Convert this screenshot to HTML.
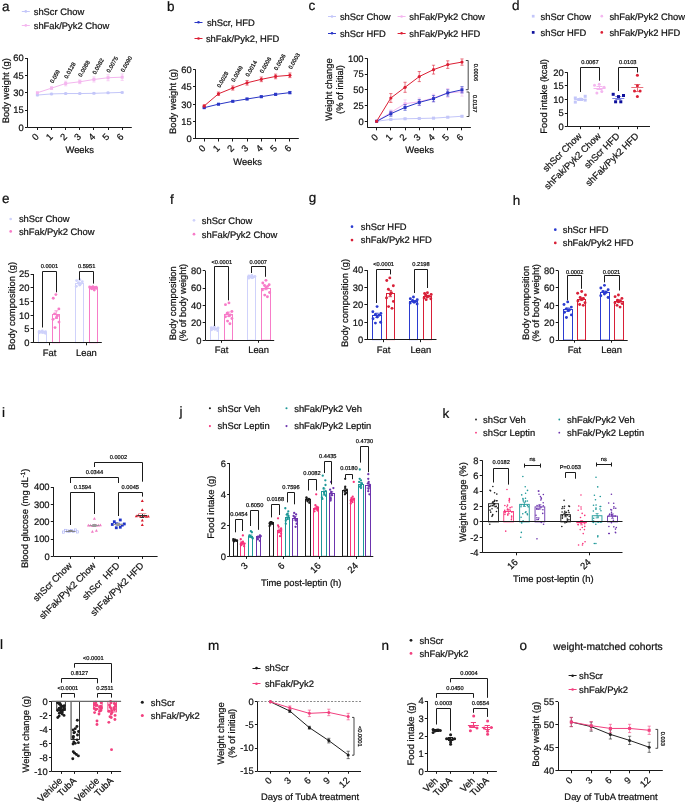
<!DOCTYPE html>
<html><head><meta charset="utf-8"><style>
html,body{margin:0;padding:0;background:#fff;}
svg{display:block;will-change:transform;}
text{font-family:"Liberation Sans",sans-serif;stroke-width:0.22px;text-rendering:geometricPrecision;}
</style></head><body>
<svg width="685" height="803" viewBox="0 0 685 803">
<rect width="685" height="803" fill="#fff"/>
<text font-size="13.5" text-anchor="start" fill="#111" stroke="#111" transform="translate(2 10.6)">a</text>
<line x1="21.8" y1="11.5" x2="29.8" y2="11.5" stroke="#c3c6f9" stroke-width="1"/>
<circle cx="25.8" cy="11.4" r="1.3" fill="#c3c6f9"/>
<text font-size="9.4" text-anchor="start" fill="#111" stroke="#111" transform="translate(33.7 14.74)">shScr Chow</text>
<line x1="21.8" y1="25.5" x2="29.8" y2="25.5" stroke="#f4b6ef" stroke-width="1"/>
<circle cx="25.8" cy="25.4" r="1.3" fill="#f4b6ef"/>
<text font-size="9.4" text-anchor="start" fill="#111" stroke="#111" transform="translate(33.7 28.74)">shFak/Pyk2 Chow</text>
<line x1="27.5" y1="58.1" x2="27.5" y2="127.4" stroke="#1a1a1a" stroke-width="1"/>
<line x1="25" y1="58.5" x2="27.6" y2="58.5" stroke="#1a1a1a" stroke-width="1"/>
<text font-size="9.4" text-anchor="end" fill="#111" stroke="#111" transform="translate(23.8 61.44)">60</text>
<line x1="25" y1="75.5" x2="27.6" y2="75.5" stroke="#1a1a1a" stroke-width="1"/>
<text font-size="9.4" text-anchor="end" fill="#111" stroke="#111" transform="translate(23.8 78.76)">45</text>
<line x1="25" y1="92.5" x2="27.6" y2="92.5" stroke="#1a1a1a" stroke-width="1"/>
<text font-size="9.4" text-anchor="end" fill="#111" stroke="#111" transform="translate(23.8 96.09)">30</text>
<line x1="25" y1="110.5" x2="27.6" y2="110.5" stroke="#1a1a1a" stroke-width="1"/>
<text font-size="9.4" text-anchor="end" fill="#111" stroke="#111" transform="translate(23.8 113.41)">15</text>
<line x1="25" y1="127.5" x2="27.6" y2="127.5" stroke="#1a1a1a" stroke-width="1"/>
<text font-size="9.4" text-anchor="end" fill="#111" stroke="#111" transform="translate(23.8 130.74)">0</text>
<line x1="27.6" y1="127.5" x2="131.8" y2="127.5" stroke="#1a1a1a" stroke-width="1"/>
<line x1="37.5" y1="127.4" x2="37.5" y2="130" stroke="#1a1a1a" stroke-width="1"/>
<line x1="51.5" y1="127.4" x2="51.5" y2="130" stroke="#1a1a1a" stroke-width="1"/>
<line x1="65.5" y1="127.4" x2="65.5" y2="130" stroke="#1a1a1a" stroke-width="1"/>
<line x1="79.5" y1="127.4" x2="79.5" y2="130" stroke="#1a1a1a" stroke-width="1"/>
<line x1="93.5" y1="127.4" x2="93.5" y2="130" stroke="#1a1a1a" stroke-width="1"/>
<line x1="108.5" y1="127.4" x2="108.5" y2="130" stroke="#1a1a1a" stroke-width="1"/>
<line x1="122.5" y1="127.4" x2="122.5" y2="130" stroke="#1a1a1a" stroke-width="1"/>
<polyline points="37.4,95.06 51.53,93.91 65.66,93.56 79.79,93.56 93.92,93.33 108.05,92.87 122.18,92.4" fill="none" stroke="#c3c6f9" stroke-width="1" stroke-linejoin="round"/>
<line x1="37.4" y1="94.37" x2="37.4" y2="95.75" stroke="#c3c6f9" stroke-width="0.6"/>
<line x1="35.8" y1="94.37" x2="39" y2="94.37" stroke="#c3c6f9" stroke-width="0.6"/>
<line x1="35.8" y1="95.75" x2="39" y2="95.75" stroke="#c3c6f9" stroke-width="0.6"/>
<line x1="51.53" y1="93.21" x2="51.53" y2="94.6" stroke="#c3c6f9" stroke-width="0.6"/>
<line x1="49.93" y1="93.21" x2="53.13" y2="93.21" stroke="#c3c6f9" stroke-width="0.6"/>
<line x1="49.93" y1="94.6" x2="53.13" y2="94.6" stroke="#c3c6f9" stroke-width="0.6"/>
<line x1="65.66" y1="92.87" x2="65.66" y2="94.25" stroke="#c3c6f9" stroke-width="0.6"/>
<line x1="64.06" y1="92.87" x2="67.26" y2="92.87" stroke="#c3c6f9" stroke-width="0.6"/>
<line x1="64.06" y1="94.25" x2="67.26" y2="94.25" stroke="#c3c6f9" stroke-width="0.6"/>
<line x1="79.79" y1="92.87" x2="79.79" y2="94.25" stroke="#c3c6f9" stroke-width="0.6"/>
<line x1="78.19" y1="92.87" x2="81.39" y2="92.87" stroke="#c3c6f9" stroke-width="0.6"/>
<line x1="78.19" y1="94.25" x2="81.39" y2="94.25" stroke="#c3c6f9" stroke-width="0.6"/>
<line x1="93.92" y1="92.63" x2="93.92" y2="94.02" stroke="#c3c6f9" stroke-width="0.6"/>
<line x1="92.32" y1="92.63" x2="95.52" y2="92.63" stroke="#c3c6f9" stroke-width="0.6"/>
<line x1="92.32" y1="94.02" x2="95.52" y2="94.02" stroke="#c3c6f9" stroke-width="0.6"/>
<line x1="108.05" y1="92.17" x2="108.05" y2="93.56" stroke="#c3c6f9" stroke-width="0.6"/>
<line x1="106.45" y1="92.17" x2="109.65" y2="92.17" stroke="#c3c6f9" stroke-width="0.6"/>
<line x1="106.45" y1="93.56" x2="109.65" y2="93.56" stroke="#c3c6f9" stroke-width="0.6"/>
<line x1="122.18" y1="91.71" x2="122.18" y2="93.1" stroke="#c3c6f9" stroke-width="0.6"/>
<line x1="120.58" y1="91.71" x2="123.78" y2="91.71" stroke="#c3c6f9" stroke-width="0.6"/>
<line x1="120.58" y1="93.1" x2="123.78" y2="93.1" stroke="#c3c6f9" stroke-width="0.6"/>
<circle cx="37.4" cy="95.06" r="1.5" fill="#c3c6f9"/>
<circle cx="51.53" cy="93.91" r="1.5" fill="#c3c6f9"/>
<circle cx="65.66" cy="93.56" r="1.5" fill="#c3c6f9"/>
<circle cx="79.79" cy="93.56" r="1.5" fill="#c3c6f9"/>
<circle cx="93.92" cy="93.33" r="1.5" fill="#c3c6f9"/>
<circle cx="108.05" cy="92.87" r="1.5" fill="#c3c6f9"/>
<circle cx="122.18" cy="92.4" r="1.5" fill="#c3c6f9"/>
<polyline points="37.4,92.75 51.53,88.13 65.66,83.51 79.79,81.78 93.92,79.47 108.05,77.73 122.18,77.16" fill="none" stroke="#f4b6ef" stroke-width="1" stroke-linejoin="round"/>
<line x1="51.53" y1="86.74" x2="51.53" y2="89.52" stroke="#f4b6ef" stroke-width="0.6"/>
<line x1="49.93" y1="86.74" x2="53.13" y2="86.74" stroke="#f4b6ef" stroke-width="0.6"/>
<line x1="49.93" y1="89.52" x2="53.13" y2="89.52" stroke="#f4b6ef" stroke-width="0.6"/>
<line x1="65.66" y1="81.2" x2="65.66" y2="85.82" stroke="#f4b6ef" stroke-width="0.6"/>
<line x1="64.06" y1="81.2" x2="67.26" y2="81.2" stroke="#f4b6ef" stroke-width="0.6"/>
<line x1="64.06" y1="85.82" x2="67.26" y2="85.82" stroke="#f4b6ef" stroke-width="0.6"/>
<line x1="79.79" y1="79.93" x2="79.79" y2="83.63" stroke="#f4b6ef" stroke-width="0.6"/>
<line x1="78.19" y1="79.93" x2="81.39" y2="79.93" stroke="#f4b6ef" stroke-width="0.6"/>
<line x1="78.19" y1="83.63" x2="81.39" y2="83.63" stroke="#f4b6ef" stroke-width="0.6"/>
<line x1="93.92" y1="76.93" x2="93.92" y2="82.01" stroke="#f4b6ef" stroke-width="0.6"/>
<line x1="92.32" y1="76.93" x2="95.52" y2="76.93" stroke="#f4b6ef" stroke-width="0.6"/>
<line x1="92.32" y1="82.01" x2="95.52" y2="82.01" stroke="#f4b6ef" stroke-width="0.6"/>
<line x1="108.05" y1="74.73" x2="108.05" y2="80.74" stroke="#f4b6ef" stroke-width="0.6"/>
<line x1="106.45" y1="74.73" x2="109.65" y2="74.73" stroke="#f4b6ef" stroke-width="0.6"/>
<line x1="106.45" y1="80.74" x2="109.65" y2="80.74" stroke="#f4b6ef" stroke-width="0.6"/>
<line x1="122.18" y1="73.92" x2="122.18" y2="80.39" stroke="#f4b6ef" stroke-width="0.6"/>
<line x1="120.58" y1="73.92" x2="123.78" y2="73.92" stroke="#f4b6ef" stroke-width="0.6"/>
<line x1="120.58" y1="80.39" x2="123.78" y2="80.39" stroke="#f4b6ef" stroke-width="0.6"/>
<rect x="35.9" y="91.25" width="3" height="3" fill="#f4b6ef"/>
<rect x="50.03" y="86.63" width="3" height="3" fill="#f4b6ef"/>
<rect x="64.16" y="82.01" width="3" height="3" fill="#f4b6ef"/>
<rect x="78.29" y="80.28" width="3" height="3" fill="#f4b6ef"/>
<rect x="92.42" y="77.97" width="3" height="3" fill="#f4b6ef"/>
<rect x="106.55" y="76.23" width="3" height="3" fill="#f4b6ef"/>
<rect x="120.68" y="75.66" width="3" height="3" fill="#f4b6ef"/>
<text font-size="5.7" text-anchor="start" fill="#111" stroke="#111" stroke-width="0.3" transform="translate(53.03 83.51) rotate(-60)">0.059</text>
<text font-size="5.7" text-anchor="start" fill="#111" stroke="#111" stroke-width="0.3" transform="translate(67.16 78.89) rotate(-60)">0.0128</text>
<text font-size="5.7" text-anchor="start" fill="#111" stroke="#111" stroke-width="0.3" transform="translate(81.29 77.16) rotate(-60)">0.0088</text>
<text font-size="5.7" text-anchor="start" fill="#111" stroke="#111" stroke-width="0.3" transform="translate(95.42 74.85) rotate(-60)">0.0082</text>
<text font-size="5.7" text-anchor="start" fill="#111" stroke="#111" stroke-width="0.3" transform="translate(109.55 73.12) rotate(-60)">0.0075</text>
<text font-size="5.7" text-anchor="start" fill="#111" stroke="#111" stroke-width="0.3" transform="translate(123.68 72.54) rotate(-60)">0.0090</text>
<text font-size="9.4" text-anchor="end" fill="#111" stroke="#111" transform="translate(39.4 137.4) rotate(-45)">0</text>
<text font-size="9.4" text-anchor="end" fill="#111" stroke="#111" transform="translate(53.53 137.4) rotate(-45)">1</text>
<text font-size="9.4" text-anchor="end" fill="#111" stroke="#111" transform="translate(67.66 137.4) rotate(-45)">2</text>
<text font-size="9.4" text-anchor="end" fill="#111" stroke="#111" transform="translate(81.79 137.4) rotate(-45)">3</text>
<text font-size="9.4" text-anchor="end" fill="#111" stroke="#111" transform="translate(95.92 137.4) rotate(-45)">4</text>
<text font-size="9.4" text-anchor="end" fill="#111" stroke="#111" transform="translate(110.05 137.4) rotate(-45)">5</text>
<text font-size="9.4" text-anchor="end" fill="#111" stroke="#111" transform="translate(124.18 137.4) rotate(-45)">6</text>
<text font-size="9.4" text-anchor="middle" fill="#111" stroke="#111" transform="translate(79.7 152.9)">Weeks</text>
<text font-size="9.4" text-anchor="middle" fill="#111" stroke="#111" transform="translate(9.38 90.8) rotate(-90)">Body weight (g)</text>
<text font-size="13.5" text-anchor="start" fill="#111" stroke="#111" transform="translate(167 10.6)">b</text>
<line x1="194.5" y1="22.5" x2="202.5" y2="22.5" stroke="#2a36c6" stroke-width="1"/>
<circle cx="198.5" cy="22.2" r="1.3" fill="#2a36c6"/>
<text font-size="9.4" text-anchor="start" fill="#111" stroke="#111" transform="translate(206.9 25.54)">shScr, HFD</text>
<line x1="194.5" y1="38.5" x2="202.5" y2="38.5" stroke="#dc1f34" stroke-width="1"/>
<circle cx="198.5" cy="38.5" r="1.3" fill="#dc1f34"/>
<text font-size="9.4" text-anchor="start" fill="#111" stroke="#111" transform="translate(205.9 41.84)">shFak/Pyk2, HFD</text>
<line x1="195.5" y1="69.5" x2="195.5" y2="138.9" stroke="#1a1a1a" stroke-width="1"/>
<line x1="193" y1="69.5" x2="195.6" y2="69.5" stroke="#1a1a1a" stroke-width="1"/>
<text font-size="9.4" text-anchor="end" fill="#111" stroke="#111" transform="translate(191.8 72.84)">60</text>
<line x1="193" y1="86.5" x2="195.6" y2="86.5" stroke="#1a1a1a" stroke-width="1"/>
<text font-size="9.4" text-anchor="end" fill="#111" stroke="#111" transform="translate(191.8 90.19)">45</text>
<line x1="193" y1="104.5" x2="195.6" y2="104.5" stroke="#1a1a1a" stroke-width="1"/>
<text font-size="9.4" text-anchor="end" fill="#111" stroke="#111" transform="translate(191.8 107.54)">30</text>
<line x1="193" y1="121.5" x2="195.6" y2="121.5" stroke="#1a1a1a" stroke-width="1"/>
<text font-size="9.4" text-anchor="end" fill="#111" stroke="#111" transform="translate(191.8 124.89)">15</text>
<line x1="193" y1="138.5" x2="195.6" y2="138.5" stroke="#1a1a1a" stroke-width="1"/>
<text font-size="9.4" text-anchor="end" fill="#111" stroke="#111" transform="translate(191.8 142.24)">0</text>
<line x1="195.6" y1="138.5" x2="298.8" y2="138.5" stroke="#1a1a1a" stroke-width="1"/>
<line x1="204.5" y1="138.9" x2="204.5" y2="141.5" stroke="#1a1a1a" stroke-width="1"/>
<line x1="218.5" y1="138.9" x2="218.5" y2="141.5" stroke="#1a1a1a" stroke-width="1"/>
<line x1="232.5" y1="138.9" x2="232.5" y2="141.5" stroke="#1a1a1a" stroke-width="1"/>
<line x1="247.5" y1="138.9" x2="247.5" y2="141.5" stroke="#1a1a1a" stroke-width="1"/>
<line x1="261.5" y1="138.9" x2="261.5" y2="141.5" stroke="#1a1a1a" stroke-width="1"/>
<line x1="275.5" y1="138.9" x2="275.5" y2="141.5" stroke="#1a1a1a" stroke-width="1"/>
<line x1="289.5" y1="138.9" x2="289.5" y2="141.5" stroke="#1a1a1a" stroke-width="1"/>
<polyline points="204.2,107.67 218.48,104.2 232.76,101.31 247.04,99 261.32,96.68 275.6,94.37 289.88,92.63" fill="none" stroke="#2a36c6" stroke-width="1" stroke-linejoin="round"/>
<line x1="204.2" y1="107.09" x2="204.2" y2="108.25" stroke="#2a36c6" stroke-width="0.6"/>
<line x1="202.6" y1="107.09" x2="205.8" y2="107.09" stroke="#2a36c6" stroke-width="0.6"/>
<line x1="202.6" y1="108.25" x2="205.8" y2="108.25" stroke="#2a36c6" stroke-width="0.6"/>
<line x1="218.48" y1="103.51" x2="218.48" y2="104.89" stroke="#2a36c6" stroke-width="0.6"/>
<line x1="216.88" y1="103.51" x2="220.08" y2="103.51" stroke="#2a36c6" stroke-width="0.6"/>
<line x1="216.88" y1="104.89" x2="220.08" y2="104.89" stroke="#2a36c6" stroke-width="0.6"/>
<line x1="232.76" y1="100.61" x2="232.76" y2="102" stroke="#2a36c6" stroke-width="0.6"/>
<line x1="231.16" y1="100.61" x2="234.36" y2="100.61" stroke="#2a36c6" stroke-width="0.6"/>
<line x1="231.16" y1="102" x2="234.36" y2="102" stroke="#2a36c6" stroke-width="0.6"/>
<line x1="247.04" y1="98.19" x2="247.04" y2="99.8" stroke="#2a36c6" stroke-width="0.6"/>
<line x1="245.44" y1="98.19" x2="248.64" y2="98.19" stroke="#2a36c6" stroke-width="0.6"/>
<line x1="245.44" y1="99.8" x2="248.64" y2="99.8" stroke="#2a36c6" stroke-width="0.6"/>
<line x1="261.32" y1="95.76" x2="261.32" y2="97.61" stroke="#2a36c6" stroke-width="0.6"/>
<line x1="259.72" y1="95.76" x2="262.92" y2="95.76" stroke="#2a36c6" stroke-width="0.6"/>
<line x1="259.72" y1="97.61" x2="262.92" y2="97.61" stroke="#2a36c6" stroke-width="0.6"/>
<line x1="275.6" y1="93.33" x2="275.6" y2="95.41" stroke="#2a36c6" stroke-width="0.6"/>
<line x1="274" y1="93.33" x2="277.2" y2="93.33" stroke="#2a36c6" stroke-width="0.6"/>
<line x1="274" y1="95.41" x2="277.2" y2="95.41" stroke="#2a36c6" stroke-width="0.6"/>
<line x1="289.88" y1="91.48" x2="289.88" y2="93.79" stroke="#2a36c6" stroke-width="0.6"/>
<line x1="288.28" y1="91.48" x2="291.48" y2="91.48" stroke="#2a36c6" stroke-width="0.6"/>
<line x1="288.28" y1="93.79" x2="291.48" y2="93.79" stroke="#2a36c6" stroke-width="0.6"/>
<rect x="202.7" y="106.17" width="3" height="3" fill="#2a36c6"/>
<rect x="216.98" y="102.7" width="3" height="3" fill="#2a36c6"/>
<rect x="231.26" y="99.81" width="3" height="3" fill="#2a36c6"/>
<rect x="245.54" y="97.5" width="3" height="3" fill="#2a36c6"/>
<rect x="259.82" y="95.18" width="3" height="3" fill="#2a36c6"/>
<rect x="274.1" y="92.87" width="3" height="3" fill="#2a36c6"/>
<rect x="288.38" y="91.13" width="3" height="3" fill="#2a36c6"/>
<polyline points="204.2,105.94 218.48,93.79 232.76,88.01 247.04,82.8 261.32,79.33 275.6,76.44 289.88,75.28" fill="none" stroke="#dc1f34" stroke-width="1" stroke-linejoin="round"/>
<line x1="204.2" y1="105.01" x2="204.2" y2="106.86" stroke="#dc1f34" stroke-width="0.6"/>
<line x1="202.6" y1="105.01" x2="205.8" y2="105.01" stroke="#dc1f34" stroke-width="0.6"/>
<line x1="202.6" y1="106.86" x2="205.8" y2="106.86" stroke="#dc1f34" stroke-width="0.6"/>
<line x1="218.48" y1="92.06" x2="218.48" y2="95.53" stroke="#dc1f34" stroke-width="0.6"/>
<line x1="216.88" y1="92.06" x2="220.08" y2="92.06" stroke="#dc1f34" stroke-width="0.6"/>
<line x1="216.88" y1="95.53" x2="220.08" y2="95.53" stroke="#dc1f34" stroke-width="0.6"/>
<line x1="232.76" y1="85.92" x2="232.76" y2="90.09" stroke="#dc1f34" stroke-width="0.6"/>
<line x1="231.16" y1="85.92" x2="234.36" y2="85.92" stroke="#dc1f34" stroke-width="0.6"/>
<line x1="231.16" y1="90.09" x2="234.36" y2="90.09" stroke="#dc1f34" stroke-width="0.6"/>
<line x1="247.04" y1="80.49" x2="247.04" y2="85.12" stroke="#dc1f34" stroke-width="0.6"/>
<line x1="245.44" y1="80.49" x2="248.64" y2="80.49" stroke="#dc1f34" stroke-width="0.6"/>
<line x1="245.44" y1="85.12" x2="248.64" y2="85.12" stroke="#dc1f34" stroke-width="0.6"/>
<line x1="261.32" y1="77.02" x2="261.32" y2="81.65" stroke="#dc1f34" stroke-width="0.6"/>
<line x1="259.72" y1="77.02" x2="262.92" y2="77.02" stroke="#dc1f34" stroke-width="0.6"/>
<line x1="259.72" y1="81.65" x2="262.92" y2="81.65" stroke="#dc1f34" stroke-width="0.6"/>
<line x1="275.6" y1="74.13" x2="275.6" y2="78.75" stroke="#dc1f34" stroke-width="0.6"/>
<line x1="274" y1="74.13" x2="277.2" y2="74.13" stroke="#dc1f34" stroke-width="0.6"/>
<line x1="274" y1="78.75" x2="277.2" y2="78.75" stroke="#dc1f34" stroke-width="0.6"/>
<line x1="289.88" y1="72.97" x2="289.88" y2="77.6" stroke="#dc1f34" stroke-width="0.6"/>
<line x1="288.28" y1="72.97" x2="291.48" y2="72.97" stroke="#dc1f34" stroke-width="0.6"/>
<line x1="288.28" y1="77.6" x2="291.48" y2="77.6" stroke="#dc1f34" stroke-width="0.6"/>
<circle cx="204.2" cy="105.94" r="1.6" fill="#dc1f34"/>
<circle cx="218.48" cy="93.79" r="1.6" fill="#dc1f34"/>
<circle cx="232.76" cy="88.01" r="1.6" fill="#dc1f34"/>
<circle cx="247.04" cy="82.8" r="1.6" fill="#dc1f34"/>
<circle cx="261.32" cy="79.33" r="1.6" fill="#dc1f34"/>
<circle cx="275.6" cy="76.44" r="1.6" fill="#dc1f34"/>
<circle cx="289.88" cy="75.28" r="1.6" fill="#dc1f34"/>
<text font-size="5.7" text-anchor="start" fill="#111" stroke="#111" stroke-width="0.3" transform="translate(219.98 88.01) rotate(-60)">0.0028</text>
<text font-size="5.7" text-anchor="start" fill="#111" stroke="#111" stroke-width="0.3" transform="translate(234.26 82.22) rotate(-60)">0.0049</text>
<text font-size="5.7" text-anchor="start" fill="#111" stroke="#111" stroke-width="0.3" transform="translate(248.54 77.02) rotate(-60)">0.0014</text>
<text font-size="5.7" text-anchor="start" fill="#111" stroke="#111" stroke-width="0.3" transform="translate(262.82 73.55) rotate(-60)">0.0006</text>
<text font-size="5.7" text-anchor="start" fill="#111" stroke="#111" stroke-width="0.3" transform="translate(277.1 70.66) rotate(-60)">0.0006</text>
<text font-size="5.7" text-anchor="start" fill="#111" stroke="#111" stroke-width="0.3" transform="translate(291.38 69.5) rotate(-60)">0.0003</text>
<text font-size="9.4" text-anchor="end" fill="#111" stroke="#111" transform="translate(206.2 148.9) rotate(-45)">0</text>
<text font-size="9.4" text-anchor="end" fill="#111" stroke="#111" transform="translate(220.48 148.9) rotate(-45)">1</text>
<text font-size="9.4" text-anchor="end" fill="#111" stroke="#111" transform="translate(234.76 148.9) rotate(-45)">2</text>
<text font-size="9.4" text-anchor="end" fill="#111" stroke="#111" transform="translate(249.04 148.9) rotate(-45)">3</text>
<text font-size="9.4" text-anchor="end" fill="#111" stroke="#111" transform="translate(263.32 148.9) rotate(-45)">4</text>
<text font-size="9.4" text-anchor="end" fill="#111" stroke="#111" transform="translate(277.6 148.9) rotate(-45)">5</text>
<text font-size="9.4" text-anchor="end" fill="#111" stroke="#111" transform="translate(291.88 148.9) rotate(-45)">6</text>
<text font-size="9.4" text-anchor="middle" fill="#111" stroke="#111" transform="translate(247.6 165.2)">Weeks</text>
<text font-size="9.4" text-anchor="middle" fill="#111" stroke="#111" transform="translate(176.08 101.5) rotate(-90)">Body weight (g)</text>
<text font-size="13.5" text-anchor="start" fill="#111" stroke="#111" transform="translate(308.4 10.3)">c</text>
<line x1="328" y1="16.5" x2="336" y2="16.5" stroke="#c3c6f9" stroke-width="1"/>
<circle cx="332" cy="16.5" r="1.3" fill="#c3c6f9"/>
<text font-size="9.4" text-anchor="start" fill="#111" stroke="#111" transform="translate(339.9 19.84)">shScr Chow</text>
<line x1="397.6" y1="16.5" x2="405.6" y2="16.5" stroke="#f4b6ef" stroke-width="1"/>
<circle cx="401.6" cy="16.5" r="1.3" fill="#f4b6ef"/>
<text font-size="9.4" text-anchor="start" fill="#111" stroke="#111" transform="translate(409.3 19.84)">shFak/Pyk2 Chow</text>
<line x1="328" y1="33.5" x2="336" y2="33.5" stroke="#2a36c6" stroke-width="1"/>
<circle cx="332" cy="33.3" r="1.3" fill="#2a36c6"/>
<text font-size="9.4" text-anchor="start" fill="#111" stroke="#111" transform="translate(339.9 36.64)">shScr HFD</text>
<line x1="397.6" y1="33.5" x2="405.6" y2="33.5" stroke="#dc1f34" stroke-width="1"/>
<circle cx="401.6" cy="33.3" r="1.3" fill="#dc1f34"/>
<text font-size="9.4" text-anchor="start" fill="#111" stroke="#111" transform="translate(409.3 36.64)">shFak/Pyk2 HFD</text>
<line x1="367.5" y1="58.3" x2="367.5" y2="127.7" stroke="#1a1a1a" stroke-width="1"/>
<line x1="364.8" y1="58.5" x2="367.4" y2="58.5" stroke="#1a1a1a" stroke-width="1"/>
<text font-size="9.4" text-anchor="end" fill="#111" stroke="#111" transform="translate(363.6 61.64)">100</text>
<line x1="364.8" y1="74.5" x2="367.4" y2="74.5" stroke="#1a1a1a" stroke-width="1"/>
<text font-size="9.4" text-anchor="end" fill="#111" stroke="#111" transform="translate(363.6 77.39)">75</text>
<line x1="364.8" y1="89.5" x2="367.4" y2="89.5" stroke="#1a1a1a" stroke-width="1"/>
<text font-size="9.4" text-anchor="end" fill="#111" stroke="#111" transform="translate(363.6 93.14)">50</text>
<line x1="364.8" y1="105.5" x2="367.4" y2="105.5" stroke="#1a1a1a" stroke-width="1"/>
<text font-size="9.4" text-anchor="end" fill="#111" stroke="#111" transform="translate(363.6 108.89)">25</text>
<line x1="364.8" y1="121.5" x2="367.4" y2="121.5" stroke="#1a1a1a" stroke-width="1"/>
<text font-size="9.4" text-anchor="end" fill="#111" stroke="#111" transform="translate(363.6 124.64)">0</text>
<line x1="367.4" y1="127.5" x2="470.9" y2="127.5" stroke="#1a1a1a" stroke-width="1"/>
<line x1="376.5" y1="127.7" x2="376.5" y2="130.3" stroke="#1a1a1a" stroke-width="1"/>
<line x1="390.5" y1="127.7" x2="390.5" y2="130.3" stroke="#1a1a1a" stroke-width="1"/>
<line x1="405.5" y1="127.7" x2="405.5" y2="130.3" stroke="#1a1a1a" stroke-width="1"/>
<line x1="419.5" y1="127.7" x2="419.5" y2="130.3" stroke="#1a1a1a" stroke-width="1"/>
<line x1="433.5" y1="127.7" x2="433.5" y2="130.3" stroke="#1a1a1a" stroke-width="1"/>
<line x1="447.5" y1="127.7" x2="447.5" y2="130.3" stroke="#1a1a1a" stroke-width="1"/>
<line x1="461.5" y1="127.7" x2="461.5" y2="130.3" stroke="#1a1a1a" stroke-width="1"/>
<polyline points="376.6,121.3 390.83,119.41 405.06,118.78 419.29,118.47 433.52,118.15 447.75,117.2 461.98,116.26" fill="none" stroke="#c3c6f9" stroke-width="1" stroke-linejoin="round"/>
<line x1="390.83" y1="118.91" x2="390.83" y2="119.91" stroke="#c3c6f9" stroke-width="0.6"/>
<line x1="389.23" y1="118.91" x2="392.43" y2="118.91" stroke="#c3c6f9" stroke-width="0.6"/>
<line x1="389.23" y1="119.91" x2="392.43" y2="119.91" stroke="#c3c6f9" stroke-width="0.6"/>
<line x1="405.06" y1="118.28" x2="405.06" y2="119.28" stroke="#c3c6f9" stroke-width="0.6"/>
<line x1="403.46" y1="118.28" x2="406.66" y2="118.28" stroke="#c3c6f9" stroke-width="0.6"/>
<line x1="403.46" y1="119.28" x2="406.66" y2="119.28" stroke="#c3c6f9" stroke-width="0.6"/>
<line x1="419.29" y1="117.96" x2="419.29" y2="118.97" stroke="#c3c6f9" stroke-width="0.6"/>
<line x1="417.69" y1="117.96" x2="420.89" y2="117.96" stroke="#c3c6f9" stroke-width="0.6"/>
<line x1="417.69" y1="118.97" x2="420.89" y2="118.97" stroke="#c3c6f9" stroke-width="0.6"/>
<line x1="433.52" y1="117.65" x2="433.52" y2="118.65" stroke="#c3c6f9" stroke-width="0.6"/>
<line x1="431.92" y1="117.65" x2="435.12" y2="117.65" stroke="#c3c6f9" stroke-width="0.6"/>
<line x1="431.92" y1="118.65" x2="435.12" y2="118.65" stroke="#c3c6f9" stroke-width="0.6"/>
<line x1="447.75" y1="116.58" x2="447.75" y2="117.83" stroke="#c3c6f9" stroke-width="0.6"/>
<line x1="446.15" y1="116.58" x2="449.35" y2="116.58" stroke="#c3c6f9" stroke-width="0.6"/>
<line x1="446.15" y1="117.83" x2="449.35" y2="117.83" stroke="#c3c6f9" stroke-width="0.6"/>
<line x1="461.98" y1="115.63" x2="461.98" y2="116.89" stroke="#c3c6f9" stroke-width="0.6"/>
<line x1="460.38" y1="115.63" x2="463.58" y2="115.63" stroke="#c3c6f9" stroke-width="0.6"/>
<line x1="460.38" y1="116.89" x2="463.58" y2="116.89" stroke="#c3c6f9" stroke-width="0.6"/>
<rect x="375.1" y="119.8" width="3" height="3" fill="#c3c6f9"/>
<rect x="389.33" y="117.91" width="3" height="3" fill="#c3c6f9"/>
<rect x="403.56" y="117.28" width="3" height="3" fill="#c3c6f9"/>
<rect x="417.79" y="116.97" width="3" height="3" fill="#c3c6f9"/>
<rect x="432.02" y="116.65" width="3" height="3" fill="#c3c6f9"/>
<rect x="446.25" y="115.7" width="3" height="3" fill="#c3c6f9"/>
<rect x="460.48" y="114.76" width="3" height="3" fill="#c3c6f9"/>
<polyline points="376.6,121.3 390.83,112.48 405.06,103.66 419.29,101.77 433.52,97.99 447.75,92.95 461.98,91.69" fill="none" stroke="#f4b6ef" stroke-width="1" stroke-linejoin="round"/>
<line x1="390.83" y1="109.96" x2="390.83" y2="115" stroke="#f4b6ef" stroke-width="0.6"/>
<line x1="389.23" y1="109.96" x2="392.43" y2="109.96" stroke="#f4b6ef" stroke-width="0.6"/>
<line x1="389.23" y1="115" x2="392.43" y2="115" stroke="#f4b6ef" stroke-width="0.6"/>
<line x1="405.06" y1="99.88" x2="405.06" y2="107.44" stroke="#f4b6ef" stroke-width="0.6"/>
<line x1="403.46" y1="99.88" x2="406.66" y2="99.88" stroke="#f4b6ef" stroke-width="0.6"/>
<line x1="403.46" y1="107.44" x2="406.66" y2="107.44" stroke="#f4b6ef" stroke-width="0.6"/>
<line x1="419.29" y1="97.99" x2="419.29" y2="105.55" stroke="#f4b6ef" stroke-width="0.6"/>
<line x1="417.69" y1="97.99" x2="420.89" y2="97.99" stroke="#f4b6ef" stroke-width="0.6"/>
<line x1="417.69" y1="105.55" x2="420.89" y2="105.55" stroke="#f4b6ef" stroke-width="0.6"/>
<line x1="433.52" y1="94.21" x2="433.52" y2="101.77" stroke="#f4b6ef" stroke-width="0.6"/>
<line x1="431.92" y1="94.21" x2="435.12" y2="94.21" stroke="#f4b6ef" stroke-width="0.6"/>
<line x1="431.92" y1="101.77" x2="435.12" y2="101.77" stroke="#f4b6ef" stroke-width="0.6"/>
<line x1="447.75" y1="88.54" x2="447.75" y2="97.36" stroke="#f4b6ef" stroke-width="0.6"/>
<line x1="446.15" y1="88.54" x2="449.35" y2="88.54" stroke="#f4b6ef" stroke-width="0.6"/>
<line x1="446.15" y1="97.36" x2="449.35" y2="97.36" stroke="#f4b6ef" stroke-width="0.6"/>
<line x1="461.98" y1="87.28" x2="461.98" y2="96.1" stroke="#f4b6ef" stroke-width="0.6"/>
<line x1="460.38" y1="87.28" x2="463.58" y2="87.28" stroke="#f4b6ef" stroke-width="0.6"/>
<line x1="460.38" y1="96.1" x2="463.58" y2="96.1" stroke="#f4b6ef" stroke-width="0.6"/>
<rect x="375.1" y="119.8" width="3" height="3" fill="#f4b6ef"/>
<rect x="389.33" y="110.98" width="3" height="3" fill="#f4b6ef"/>
<rect x="403.56" y="102.16" width="3" height="3" fill="#f4b6ef"/>
<rect x="417.79" y="100.27" width="3" height="3" fill="#f4b6ef"/>
<rect x="432.02" y="96.49" width="3" height="3" fill="#f4b6ef"/>
<rect x="446.25" y="91.45" width="3" height="3" fill="#f4b6ef"/>
<rect x="460.48" y="90.19" width="3" height="3" fill="#f4b6ef"/>
<polyline points="376.6,121.3 390.83,113.74 405.06,107.44 419.29,102.4 433.52,98.62 447.75,92.95 461.98,89.8" fill="none" stroke="#2a36c6" stroke-width="1" stroke-linejoin="round"/>
<line x1="390.83" y1="111.22" x2="390.83" y2="116.26" stroke="#2a36c6" stroke-width="0.6"/>
<line x1="389.23" y1="111.22" x2="392.43" y2="111.22" stroke="#2a36c6" stroke-width="0.6"/>
<line x1="389.23" y1="116.26" x2="392.43" y2="116.26" stroke="#2a36c6" stroke-width="0.6"/>
<line x1="405.06" y1="104.6" x2="405.06" y2="110.27" stroke="#2a36c6" stroke-width="0.6"/>
<line x1="403.46" y1="104.6" x2="406.66" y2="104.6" stroke="#2a36c6" stroke-width="0.6"/>
<line x1="403.46" y1="110.27" x2="406.66" y2="110.27" stroke="#2a36c6" stroke-width="0.6"/>
<line x1="419.29" y1="99.56" x2="419.29" y2="105.23" stroke="#2a36c6" stroke-width="0.6"/>
<line x1="417.69" y1="99.56" x2="420.89" y2="99.56" stroke="#2a36c6" stroke-width="0.6"/>
<line x1="417.69" y1="105.23" x2="420.89" y2="105.23" stroke="#2a36c6" stroke-width="0.6"/>
<line x1="433.52" y1="95.47" x2="433.52" y2="101.77" stroke="#2a36c6" stroke-width="0.6"/>
<line x1="431.92" y1="95.47" x2="435.12" y2="95.47" stroke="#2a36c6" stroke-width="0.6"/>
<line x1="431.92" y1="101.77" x2="435.12" y2="101.77" stroke="#2a36c6" stroke-width="0.6"/>
<line x1="447.75" y1="89.8" x2="447.75" y2="96.1" stroke="#2a36c6" stroke-width="0.6"/>
<line x1="446.15" y1="89.8" x2="449.35" y2="89.8" stroke="#2a36c6" stroke-width="0.6"/>
<line x1="446.15" y1="96.1" x2="449.35" y2="96.1" stroke="#2a36c6" stroke-width="0.6"/>
<line x1="461.98" y1="86.65" x2="461.98" y2="92.95" stroke="#2a36c6" stroke-width="0.6"/>
<line x1="460.38" y1="86.65" x2="463.58" y2="86.65" stroke="#2a36c6" stroke-width="0.6"/>
<line x1="460.38" y1="92.95" x2="463.58" y2="92.95" stroke="#2a36c6" stroke-width="0.6"/>
<rect x="375.1" y="119.8" width="3" height="3" fill="#2a36c6"/>
<rect x="389.33" y="112.24" width="3" height="3" fill="#2a36c6"/>
<rect x="403.56" y="105.94" width="3" height="3" fill="#2a36c6"/>
<rect x="417.79" y="100.9" width="3" height="3" fill="#2a36c6"/>
<rect x="432.02" y="97.12" width="3" height="3" fill="#2a36c6"/>
<rect x="446.25" y="91.45" width="3" height="3" fill="#2a36c6"/>
<rect x="460.48" y="88.3" width="3" height="3" fill="#2a36c6"/>
<polyline points="376.6,121.3 390.83,97.99 405.06,87.28 419.29,76.57 433.52,69.64 447.75,64.6 461.98,62.08" fill="none" stroke="#dc1f34" stroke-width="1" stroke-linejoin="round"/>
<line x1="390.83" y1="93.58" x2="390.83" y2="102.4" stroke="#dc1f34" stroke-width="0.6"/>
<line x1="389.23" y1="93.58" x2="392.43" y2="93.58" stroke="#dc1f34" stroke-width="0.6"/>
<line x1="389.23" y1="102.4" x2="392.43" y2="102.4" stroke="#dc1f34" stroke-width="0.6"/>
<line x1="405.06" y1="82.24" x2="405.06" y2="92.32" stroke="#dc1f34" stroke-width="0.6"/>
<line x1="403.46" y1="82.24" x2="406.66" y2="82.24" stroke="#dc1f34" stroke-width="0.6"/>
<line x1="403.46" y1="92.32" x2="406.66" y2="92.32" stroke="#dc1f34" stroke-width="0.6"/>
<line x1="419.29" y1="71.53" x2="419.29" y2="81.61" stroke="#dc1f34" stroke-width="0.6"/>
<line x1="417.69" y1="71.53" x2="420.89" y2="71.53" stroke="#dc1f34" stroke-width="0.6"/>
<line x1="417.69" y1="81.61" x2="420.89" y2="81.61" stroke="#dc1f34" stroke-width="0.6"/>
<line x1="433.52" y1="65.23" x2="433.52" y2="74.05" stroke="#dc1f34" stroke-width="0.6"/>
<line x1="431.92" y1="65.23" x2="435.12" y2="65.23" stroke="#dc1f34" stroke-width="0.6"/>
<line x1="431.92" y1="74.05" x2="435.12" y2="74.05" stroke="#dc1f34" stroke-width="0.6"/>
<line x1="447.75" y1="60.82" x2="447.75" y2="68.38" stroke="#dc1f34" stroke-width="0.6"/>
<line x1="446.15" y1="60.82" x2="449.35" y2="60.82" stroke="#dc1f34" stroke-width="0.6"/>
<line x1="446.15" y1="68.38" x2="449.35" y2="68.38" stroke="#dc1f34" stroke-width="0.6"/>
<line x1="461.98" y1="58.93" x2="461.98" y2="65.23" stroke="#dc1f34" stroke-width="0.6"/>
<line x1="460.38" y1="58.93" x2="463.58" y2="58.93" stroke="#dc1f34" stroke-width="0.6"/>
<line x1="460.38" y1="65.23" x2="463.58" y2="65.23" stroke="#dc1f34" stroke-width="0.6"/>
<circle cx="376.6" cy="121.3" r="1.6" fill="#dc1f34"/>
<circle cx="390.83" cy="97.99" r="1.6" fill="#dc1f34"/>
<circle cx="405.06" cy="87.28" r="1.6" fill="#dc1f34"/>
<circle cx="419.29" cy="76.57" r="1.6" fill="#dc1f34"/>
<circle cx="433.52" cy="69.64" r="1.6" fill="#dc1f34"/>
<circle cx="447.75" cy="64.6" r="1.6" fill="#dc1f34"/>
<circle cx="461.98" cy="62.08" r="1.6" fill="#dc1f34"/>
<polyline points="465.8,60.5 468.2,60.5 468.2,89.7 465.8,89.7" fill="none" stroke="#1a1a1a" stroke-width="0.8" stroke-linejoin="round"/>
<polyline points="466.6,92 469,92 469,116.5 466.6,116.5" fill="none" stroke="#1a1a1a" stroke-width="0.8" stroke-linejoin="round"/>
<text font-size="5.7" text-anchor="middle" fill="#111" stroke="#111" stroke-width="0.3" transform="translate(473.5 72.4) rotate(90)">0.0006</text>
<text font-size="5.7" text-anchor="middle" fill="#111" stroke="#111" stroke-width="0.3" transform="translate(472.7 103.7) rotate(90)">0.0137</text>
<text font-size="9.4" text-anchor="end" fill="#111" stroke="#111" transform="translate(378.6 137.7) rotate(-45)">0</text>
<text font-size="9.4" text-anchor="end" fill="#111" stroke="#111" transform="translate(392.83 137.7) rotate(-45)">1</text>
<text font-size="9.4" text-anchor="end" fill="#111" stroke="#111" transform="translate(407.06 137.7) rotate(-45)">2</text>
<text font-size="9.4" text-anchor="end" fill="#111" stroke="#111" transform="translate(421.29 137.7) rotate(-45)">3</text>
<text font-size="9.4" text-anchor="end" fill="#111" stroke="#111" transform="translate(435.52 137.7) rotate(-45)">4</text>
<text font-size="9.4" text-anchor="end" fill="#111" stroke="#111" transform="translate(449.75 137.7) rotate(-45)">5</text>
<text font-size="9.4" text-anchor="end" fill="#111" stroke="#111" transform="translate(463.98 137.7) rotate(-45)">6</text>
<text font-size="9.4" text-anchor="middle" fill="#111" stroke="#111" transform="translate(419.6 153.3)">Weeks</text>
<text font-size="9.4" text-anchor="middle" fill="#111" stroke="#111" transform="translate(331.98 89.5) rotate(-90)">Weight change</text>
<text font-size="9.4" text-anchor="middle" fill="#111" stroke="#111" transform="translate(342.88 89.5) rotate(-90)">(% of initial)</text>
<text font-size="13.5" text-anchor="start" fill="#111" stroke="#111" transform="translate(512 9.6)">d</text>
<rect x="531.85" y="14.85" width="2.7" height="2.7" fill="#c3c6f9"/>
<text font-size="9.4" text-anchor="start" fill="#111" stroke="#111" transform="translate(540.5 19.54)">shScr Chow</text>
<circle cx="601.8" cy="16.2" r="1.35" fill="#f4b6ef"/>
<text font-size="9.4" text-anchor="start" fill="#111" stroke="#111" transform="translate(609.4 19.54)">shFak/Pyk2 Chow</text>
<rect x="531.85" y="31.05" width="2.7" height="2.7" fill="#0d0f9c"/>
<text font-size="9.4" text-anchor="start" fill="#111" stroke="#111" transform="translate(540.5 35.74)">shScr HFD</text>
<circle cx="601.8" cy="32.4" r="1.35" fill="#dc1f34"/>
<text font-size="9.4" text-anchor="start" fill="#111" stroke="#111" transform="translate(609.4 35.74)">shFak/Pyk2 HFD</text>
<line x1="567.5" y1="72.2" x2="567.5" y2="126.6" stroke="#1a1a1a" stroke-width="1"/>
<line x1="564.8" y1="72.5" x2="567.4" y2="72.5" stroke="#1a1a1a" stroke-width="1"/>
<text font-size="9.4" text-anchor="end" fill="#111" stroke="#111" transform="translate(563.6 75.54)">20</text>
<line x1="564.8" y1="85.5" x2="567.4" y2="85.5" stroke="#1a1a1a" stroke-width="1"/>
<text font-size="9.4" text-anchor="end" fill="#111" stroke="#111" transform="translate(563.6 89.14)">15</text>
<line x1="564.8" y1="99.5" x2="567.4" y2="99.5" stroke="#1a1a1a" stroke-width="1"/>
<text font-size="9.4" text-anchor="end" fill="#111" stroke="#111" transform="translate(563.6 102.74)">10</text>
<line x1="564.8" y1="113.5" x2="567.4" y2="113.5" stroke="#1a1a1a" stroke-width="1"/>
<text font-size="9.4" text-anchor="end" fill="#111" stroke="#111" transform="translate(563.6 116.34)">5</text>
<line x1="564.8" y1="126.5" x2="567.4" y2="126.5" stroke="#1a1a1a" stroke-width="1"/>
<text font-size="9.4" text-anchor="end" fill="#111" stroke="#111" transform="translate(563.6 129.94)">0</text>
<line x1="567.4" y1="126.5" x2="650" y2="126.5" stroke="#1a1a1a" stroke-width="1"/>
<line x1="580.5" y1="126.6" x2="580.5" y2="129.2" stroke="#1a1a1a" stroke-width="1"/>
<line x1="599.5" y1="126.6" x2="599.5" y2="129.2" stroke="#1a1a1a" stroke-width="1"/>
<line x1="618.5" y1="126.6" x2="618.5" y2="129.2" stroke="#1a1a1a" stroke-width="1"/>
<line x1="637.5" y1="126.6" x2="637.5" y2="129.2" stroke="#1a1a1a" stroke-width="1"/>
<line x1="574.2" y1="99.5" x2="586.2" y2="99.5" stroke="#c3c6f9" stroke-width="1"/>
<line x1="580.5" y1="98.4" x2="580.5" y2="100" stroke="#c3c6f9" stroke-width="1"/>
<line x1="577.2" y1="98.5" x2="583.2" y2="98.5" stroke="#c3c6f9" stroke-width="1"/>
<line x1="577.2" y1="100.5" x2="583.2" y2="100.5" stroke="#c3c6f9" stroke-width="1"/>
<rect x="573.8" y="96.5" width="3" height="3" fill="#c3c6f9"/>
<rect x="573.8" y="100.6" width="3" height="3" fill="#c3c6f9"/>
<rect x="579" y="97.7" width="3" height="3" fill="#c3c6f9"/>
<rect x="583.7" y="94.8" width="3" height="3" fill="#c3c6f9"/>
<rect x="583.7" y="98.6" width="3" height="3" fill="#c3c6f9"/>
<line x1="593.5" y1="88.5" x2="605.5" y2="88.5" stroke="#f4b6ef" stroke-width="1"/>
<line x1="599.5" y1="86.6" x2="599.5" y2="89.6" stroke="#f4b6ef" stroke-width="1"/>
<line x1="596.5" y1="86.5" x2="602.5" y2="86.5" stroke="#f4b6ef" stroke-width="1"/>
<line x1="596.5" y1="89.5" x2="602.5" y2="89.5" stroke="#f4b6ef" stroke-width="1"/>
<circle cx="594.5" cy="85.2" r="1.5" fill="#f4b6ef"/>
<circle cx="599.2" cy="84.3" r="1.5" fill="#f4b6ef"/>
<circle cx="604.1" cy="87.3" r="1.5" fill="#f4b6ef"/>
<circle cx="596.9" cy="93.1" r="1.5" fill="#f4b6ef"/>
<circle cx="601.8" cy="91.6" r="1.5" fill="#f4b6ef"/>
<line x1="612.3" y1="98.5" x2="624.3" y2="98.5" stroke="#7d84e2" stroke-width="1"/>
<line x1="618.5" y1="96.8" x2="618.5" y2="99.2" stroke="#7d84e2" stroke-width="1"/>
<line x1="615.3" y1="96.5" x2="621.3" y2="96.5" stroke="#7d84e2" stroke-width="1"/>
<line x1="615.3" y1="99.5" x2="621.3" y2="99.5" stroke="#7d84e2" stroke-width="1"/>
<rect x="611.7" y="92.8" width="3" height="3" fill="#0d0f9c"/>
<rect x="617" y="95.1" width="3" height="3" fill="#0d0f9c"/>
<rect x="622" y="94" width="3" height="3" fill="#0d0f9c"/>
<rect x="614.1" y="100.3" width="3" height="3" fill="#0d0f9c"/>
<rect x="619.3" y="100.3" width="3" height="3" fill="#0d0f9c"/>
<line x1="631.3" y1="87.5" x2="643.3" y2="87.5" stroke="#e8707c" stroke-width="1"/>
<line x1="637.5" y1="84.6" x2="637.5" y2="91" stroke="#e8707c" stroke-width="1"/>
<line x1="634.3" y1="84.5" x2="640.3" y2="84.5" stroke="#e8707c" stroke-width="1"/>
<line x1="634.3" y1="91.5" x2="640.3" y2="91.5" stroke="#e8707c" stroke-width="1"/>
<circle cx="637.4" cy="75.3" r="1.5" fill="#dc1f34"/>
<circle cx="637.4" cy="85.8" r="1.5" fill="#dc1f34"/>
<circle cx="634.5" cy="91" r="1.5" fill="#dc1f34"/>
<circle cx="640.1" cy="91" r="1.5" fill="#dc1f34"/>
<circle cx="637.4" cy="96.6" r="1.5" fill="#dc1f34"/>
<polyline points="580.5,92 580.5,67.5 599.5,67.5 599.5,80.7" fill="none" stroke="#1a1a1a" stroke-width="1" stroke-linejoin="round"/>
<text font-size="5.7" text-anchor="middle" fill="#111" stroke="#111" stroke-width="0.3" transform="translate(589.85 64.2)">0.0067</text>
<polyline points="618.5,91 618.5,67.5 637.5,67.5 637.5,72.5" fill="none" stroke="#1a1a1a" stroke-width="1" stroke-linejoin="round"/>
<text font-size="5.7" text-anchor="middle" fill="#111" stroke="#111" stroke-width="0.3" transform="translate(627.8 64.2)">0.0103</text>
<text font-size="9.4" text-anchor="end" fill="#111" stroke="#111" transform="translate(582.2 136.6) rotate(-45)">shScr Chow</text>
<text font-size="9.4" text-anchor="end" fill="#111" stroke="#111" transform="translate(601.5 136.6) rotate(-45)">shFak/Pyk2 Chow</text>
<text font-size="9.4" text-anchor="end" fill="#111" stroke="#111" transform="translate(620.3 136.6) rotate(-45)">shScr HFD</text>
<text font-size="9.4" text-anchor="end" fill="#111" stroke="#111" transform="translate(639.3 136.6) rotate(-45)">shFak/Pyk2 HFD</text>
<text font-size="9.4" text-anchor="middle" fill="#111" stroke="#111" transform="translate(547.38 96.4) rotate(-90)">Food intake (kcal)</text>
<text font-size="13.5" text-anchor="start" fill="#111" stroke="#111" transform="translate(2 203.3)">e</text>
<circle cx="10.7" cy="219" r="1.35" fill="#cfd2fb"/>
<text font-size="9.4" text-anchor="start" fill="#111" stroke="#111" transform="translate(18.9 222.34)">shScr Chow</text>
<circle cx="10.7" cy="231.4" r="1.35" fill="#f77cc8"/>
<text font-size="9.4" text-anchor="start" fill="#111" stroke="#111" transform="translate(18.9 234.74)">shFak/Pyk2 Chow</text>
<line x1="33.5" y1="274" x2="33.5" y2="342.7" stroke="#1a1a1a" stroke-width="1"/>
<line x1="30.6" y1="274.5" x2="33.2" y2="274.5" stroke="#1a1a1a" stroke-width="1"/>
<text font-size="9.4" text-anchor="end" fill="#111" stroke="#111" transform="translate(29.4 277.34)">25</text>
<line x1="30.6" y1="287.5" x2="33.2" y2="287.5" stroke="#1a1a1a" stroke-width="1"/>
<text font-size="9.4" text-anchor="end" fill="#111" stroke="#111" transform="translate(29.4 291.08)">20</text>
<line x1="30.6" y1="301.5" x2="33.2" y2="301.5" stroke="#1a1a1a" stroke-width="1"/>
<text font-size="9.4" text-anchor="end" fill="#111" stroke="#111" transform="translate(29.4 304.82)">15</text>
<line x1="30.6" y1="315.5" x2="33.2" y2="315.5" stroke="#1a1a1a" stroke-width="1"/>
<text font-size="9.4" text-anchor="end" fill="#111" stroke="#111" transform="translate(29.4 318.56)">10</text>
<line x1="30.6" y1="328.5" x2="33.2" y2="328.5" stroke="#1a1a1a" stroke-width="1"/>
<text font-size="9.4" text-anchor="end" fill="#111" stroke="#111" transform="translate(29.4 332.3)">5</text>
<line x1="30.6" y1="342.5" x2="33.2" y2="342.5" stroke="#1a1a1a" stroke-width="1"/>
<text font-size="9.4" text-anchor="end" fill="#111" stroke="#111" transform="translate(29.4 346.04)">0</text>
<rect x="38.5" y="332.5" width="8" height="10.2" fill="#fff" stroke="#cfd2fb" stroke-width="1"/>
<rect x="52.5" y="314.5" width="7" height="28.2" fill="#fff" stroke="#f77cc8" stroke-width="1"/>
<rect x="75.5" y="283.5" width="8" height="59.2" fill="#fff" stroke="#cfd2fb" stroke-width="1"/>
<rect x="89.5" y="287.5" width="8" height="55.2" fill="#fff" stroke="#f77cc8" stroke-width="1"/>
<circle cx="42.31" cy="330.88" r="1.45" fill="#cfd2fb"/>
<circle cx="39.22" cy="331.43" r="1.45" fill="#cfd2fb"/>
<circle cx="45.52" cy="331.71" r="1.45" fill="#cfd2fb"/>
<circle cx="40.78" cy="331.98" r="1.45" fill="#cfd2fb"/>
<circle cx="43.81" cy="332.26" r="1.45" fill="#cfd2fb"/>
<circle cx="42.34" cy="332.53" r="1.45" fill="#cfd2fb"/>
<circle cx="39.15" cy="332.81" r="1.45" fill="#cfd2fb"/>
<circle cx="45.41" cy="333.36" r="1.45" fill="#cfd2fb"/>
<line x1="42.45" y1="331.68" x2="42.45" y2="332.5" stroke="#cfd2fb" stroke-width="0.8"/>
<line x1="40.65" y1="331.68" x2="44.25" y2="331.68" stroke="#cfd2fb" stroke-width="0.8"/>
<line x1="40.65" y1="332.5" x2="44.25" y2="332.5" stroke="#cfd2fb" stroke-width="0.8"/>
<circle cx="55.88" cy="294.61" r="1.45" fill="#f77cc8"/>
<circle cx="53.25" cy="298.18" r="1.45" fill="#f77cc8"/>
<circle cx="58.86" cy="308.9" r="1.45" fill="#f77cc8"/>
<circle cx="54.6" cy="313.85" r="1.45" fill="#f77cc8"/>
<circle cx="57.52" cy="315.77" r="1.45" fill="#f77cc8"/>
<circle cx="56.51" cy="317.42" r="1.45" fill="#f77cc8"/>
<circle cx="53" cy="319.34" r="1.45" fill="#f77cc8"/>
<circle cx="58.98" cy="322.09" r="1.45" fill="#f77cc8"/>
<circle cx="55.02" cy="327.59" r="1.45" fill="#f77cc8"/>
<line x1="56.25" y1="310.82" x2="56.25" y2="318.52" stroke="#f77cc8" stroke-width="0.8"/>
<line x1="54.45" y1="310.82" x2="58.05" y2="310.82" stroke="#f77cc8" stroke-width="0.8"/>
<line x1="54.45" y1="318.52" x2="58.05" y2="318.52" stroke="#f77cc8" stroke-width="0.8"/>
<circle cx="79.81" cy="279.77" r="1.45" fill="#cfd2fb"/>
<circle cx="76.56" cy="280.6" r="1.45" fill="#cfd2fb"/>
<circle cx="82.32" cy="281.69" r="1.45" fill="#cfd2fb"/>
<circle cx="78.5" cy="282.79" r="1.45" fill="#cfd2fb"/>
<circle cx="80.41" cy="283.89" r="1.45" fill="#cfd2fb"/>
<circle cx="79.74" cy="284.99" r="1.45" fill="#cfd2fb"/>
<circle cx="76.33" cy="286.37" r="1.45" fill="#cfd2fb"/>
<line x1="79.45" y1="282.52" x2="79.45" y2="284.72" stroke="#cfd2fb" stroke-width="0.8"/>
<line x1="77.65" y1="282.52" x2="81.25" y2="282.52" stroke="#cfd2fb" stroke-width="0.8"/>
<line x1="77.65" y1="284.72" x2="81.25" y2="284.72" stroke="#cfd2fb" stroke-width="0.8"/>
<circle cx="92.92" cy="286.64" r="1.45" fill="#f77cc8"/>
<circle cx="89.69" cy="286.92" r="1.45" fill="#f77cc8"/>
<circle cx="96.25" cy="287.19" r="1.45" fill="#f77cc8"/>
<circle cx="92.01" cy="287.47" r="1.45" fill="#f77cc8"/>
<circle cx="94.38" cy="287.74" r="1.45" fill="#f77cc8"/>
<circle cx="93.27" cy="287.74" r="1.45" fill="#f77cc8"/>
<circle cx="90.11" cy="288.01" r="1.45" fill="#f77cc8"/>
<circle cx="96.3" cy="288.29" r="1.45" fill="#f77cc8"/>
<circle cx="91.8" cy="288.84" r="1.45" fill="#f77cc8"/>
<circle cx="94.29" cy="289.94" r="1.45" fill="#f77cc8"/>
<line x1="93.2" y1="286.92" x2="93.2" y2="288.01" stroke="#f77cc8" stroke-width="0.8"/>
<line x1="91.4" y1="286.92" x2="95" y2="286.92" stroke="#f77cc8" stroke-width="0.8"/>
<line x1="91.4" y1="288.01" x2="95" y2="288.01" stroke="#f77cc8" stroke-width="0.8"/>
<line x1="33.2" y1="342.5" x2="101.8" y2="342.5" stroke="#1a1a1a" stroke-width="1"/>
<line x1="49.5" y1="342.7" x2="49.5" y2="345.3" stroke="#1a1a1a" stroke-width="1"/>
<line x1="86.5" y1="342.7" x2="86.5" y2="345.3" stroke="#1a1a1a" stroke-width="1"/>
<polyline points="42.5,327.5 42.5,271.5 56.5,271.5 56.5,292.3" fill="none" stroke="#1a1a1a" stroke-width="1" stroke-linejoin="round"/>
<text font-size="5.7" text-anchor="middle" fill="#111" stroke="#111" stroke-width="0.3" transform="translate(49.4 268.1)">0.0001</text>
<polyline points="79.5,279.9 79.5,271.5 93.5,271.5 93.5,283.6" fill="none" stroke="#1a1a1a" stroke-width="1" stroke-linejoin="round"/>
<text font-size="5.7" text-anchor="middle" fill="#111" stroke="#111" stroke-width="0.3" transform="translate(86.6 268.1)">0.5951</text>
<text font-size="9.4" text-anchor="middle" fill="#111" stroke="#111" transform="translate(49.6 355.5)">Fat</text>
<text font-size="9.4" text-anchor="middle" fill="#111" stroke="#111" transform="translate(86.4 355.5)">Lean</text>
<text font-size="9.4" text-anchor="middle" fill="#111" stroke="#111" transform="translate(15.28 306) rotate(-90)">Body composition (g)</text>
<text font-size="13.5" text-anchor="start" fill="#111" stroke="#111" transform="translate(170 203.5)">f</text>
<circle cx="194" cy="220.3" r="1.35" fill="#cfd2fb"/>
<text font-size="9.4" text-anchor="start" fill="#111" stroke="#111" transform="translate(201.8 223.64)">shScr Chow</text>
<circle cx="194" cy="234.2" r="1.35" fill="#f77cc8"/>
<text font-size="9.4" text-anchor="start" fill="#111" stroke="#111" transform="translate(201.8 237.54)">shFak/Pyk2 Chow</text>
<line x1="205.5" y1="270.8" x2="205.5" y2="340.2" stroke="#1a1a1a" stroke-width="1"/>
<line x1="202.7" y1="270.5" x2="205.3" y2="270.5" stroke="#1a1a1a" stroke-width="1"/>
<text font-size="9.4" text-anchor="end" fill="#111" stroke="#111" transform="translate(201.5 274.14)">80</text>
<line x1="202.7" y1="288.5" x2="205.3" y2="288.5" stroke="#1a1a1a" stroke-width="1"/>
<text font-size="9.4" text-anchor="end" fill="#111" stroke="#111" transform="translate(201.5 291.49)">60</text>
<line x1="202.7" y1="305.5" x2="205.3" y2="305.5" stroke="#1a1a1a" stroke-width="1"/>
<text font-size="9.4" text-anchor="end" fill="#111" stroke="#111" transform="translate(201.5 308.84)">40</text>
<line x1="202.7" y1="322.5" x2="205.3" y2="322.5" stroke="#1a1a1a" stroke-width="1"/>
<text font-size="9.4" text-anchor="end" fill="#111" stroke="#111" transform="translate(201.5 326.19)">20</text>
<line x1="202.7" y1="340.5" x2="205.3" y2="340.5" stroke="#1a1a1a" stroke-width="1"/>
<text font-size="9.4" text-anchor="end" fill="#111" stroke="#111" transform="translate(201.5 343.54)">0</text>
<rect x="210.5" y="328.5" width="8" height="11.7" fill="#fff" stroke="#cfd2fb" stroke-width="1"/>
<rect x="224.5" y="314.5" width="8" height="25.7" fill="#fff" stroke="#f77cc8" stroke-width="1"/>
<rect x="247.5" y="276.5" width="8" height="63.7" fill="#fff" stroke="#cfd2fb" stroke-width="1"/>
<rect x="261.5" y="288.5" width="9" height="51.7" fill="#fff" stroke="#f77cc8" stroke-width="1"/>
<circle cx="214.4" cy="326.75" r="1.45" fill="#cfd2fb"/>
<circle cx="211.36" cy="327.62" r="1.45" fill="#cfd2fb"/>
<circle cx="218.04" cy="328.06" r="1.45" fill="#cfd2fb"/>
<circle cx="213.27" cy="328.49" r="1.45" fill="#cfd2fb"/>
<circle cx="216.02" cy="328.92" r="1.45" fill="#cfd2fb"/>
<circle cx="214.82" cy="329.36" r="1.45" fill="#cfd2fb"/>
<circle cx="211.56" cy="329.79" r="1.45" fill="#cfd2fb"/>
<circle cx="217.74" cy="330.66" r="1.45" fill="#cfd2fb"/>
<line x1="214.75" y1="328.49" x2="214.75" y2="329.36" stroke="#cfd2fb" stroke-width="0.8"/>
<line x1="212.95" y1="328.49" x2="216.55" y2="328.49" stroke="#cfd2fb" stroke-width="0.8"/>
<line x1="212.95" y1="329.36" x2="216.55" y2="329.36" stroke="#cfd2fb" stroke-width="0.8"/>
<circle cx="228.94" cy="302.9" r="1.45" fill="#f77cc8"/>
<circle cx="225.46" cy="304.63" r="1.45" fill="#f77cc8"/>
<circle cx="231.9" cy="311.57" r="1.45" fill="#f77cc8"/>
<circle cx="227.23" cy="313.31" r="1.45" fill="#f77cc8"/>
<circle cx="230.25" cy="315.04" r="1.45" fill="#f77cc8"/>
<circle cx="229" cy="315.91" r="1.45" fill="#f77cc8"/>
<circle cx="225.48" cy="316.78" r="1.45" fill="#f77cc8"/>
<circle cx="231.93" cy="318.51" r="1.45" fill="#f77cc8"/>
<circle cx="227.55" cy="321.12" r="1.45" fill="#f77cc8"/>
<circle cx="229.92" cy="323.72" r="1.45" fill="#f77cc8"/>
<line x1="228.7" y1="312.01" x2="228.7" y2="316.34" stroke="#f77cc8" stroke-width="0.8"/>
<line x1="226.9" y1="312.01" x2="230.5" y2="312.01" stroke="#f77cc8" stroke-width="0.8"/>
<line x1="226.9" y1="316.34" x2="230.5" y2="316.34" stroke="#f77cc8" stroke-width="0.8"/>
<circle cx="251.83" cy="275.57" r="1.45" fill="#cfd2fb"/>
<circle cx="248.81" cy="276" r="1.45" fill="#cfd2fb"/>
<circle cx="254.92" cy="276.44" r="1.45" fill="#cfd2fb"/>
<circle cx="250.41" cy="276.87" r="1.45" fill="#cfd2fb"/>
<circle cx="253.02" cy="277.31" r="1.45" fill="#cfd2fb"/>
<circle cx="252.03" cy="277.74" r="1.45" fill="#cfd2fb"/>
<circle cx="248.81" cy="278.17" r="1.45" fill="#cfd2fb"/>
<line x1="251.9" y1="276.53" x2="251.9" y2="277.22" stroke="#cfd2fb" stroke-width="0.8"/>
<line x1="250.1" y1="276.53" x2="253.7" y2="276.53" stroke="#cfd2fb" stroke-width="0.8"/>
<line x1="250.1" y1="277.22" x2="253.7" y2="277.22" stroke="#cfd2fb" stroke-width="0.8"/>
<circle cx="265.96" cy="280.34" r="1.45" fill="#f77cc8"/>
<circle cx="262.8" cy="282.94" r="1.45" fill="#f77cc8"/>
<circle cx="269.15" cy="284.68" r="1.45" fill="#f77cc8"/>
<circle cx="264.53" cy="285.55" r="1.45" fill="#f77cc8"/>
<circle cx="267.51" cy="286.42" r="1.45" fill="#f77cc8"/>
<circle cx="265.96" cy="288.15" r="1.45" fill="#f77cc8"/>
<circle cx="262.46" cy="289.88" r="1.45" fill="#f77cc8"/>
<circle cx="269.57" cy="292.49" r="1.45" fill="#f77cc8"/>
<circle cx="264.73" cy="295.09" r="1.45" fill="#f77cc8"/>
<circle cx="267.41" cy="296.82" r="1.45" fill="#f77cc8"/>
<line x1="265.9" y1="286.59" x2="265.9" y2="289.71" stroke="#f77cc8" stroke-width="0.8"/>
<line x1="264.1" y1="286.59" x2="267.7" y2="286.59" stroke="#f77cc8" stroke-width="0.8"/>
<line x1="264.1" y1="289.71" x2="267.7" y2="289.71" stroke="#f77cc8" stroke-width="0.8"/>
<line x1="205.3" y1="340.5" x2="274.2" y2="340.5" stroke="#1a1a1a" stroke-width="1"/>
<line x1="221.5" y1="340.2" x2="221.5" y2="342.8" stroke="#1a1a1a" stroke-width="1"/>
<line x1="258.5" y1="340.2" x2="258.5" y2="342.8" stroke="#1a1a1a" stroke-width="1"/>
<polyline points="214.5,326 214.5,266.5 228.5,266.5 228.5,300.4" fill="none" stroke="#1a1a1a" stroke-width="1" stroke-linejoin="round"/>
<text font-size="5.7" text-anchor="middle" fill="#111" stroke="#111" stroke-width="0.3" transform="translate(221.75 264)">&lt;0.0001</text>
<polyline points="251.5,273 251.5,266.5 265.5,266.5 265.5,276.8" fill="none" stroke="#1a1a1a" stroke-width="1" stroke-linejoin="round"/>
<text font-size="5.7" text-anchor="middle" fill="#111" stroke="#111" stroke-width="0.3" transform="translate(258.3 264)">0.0007</text>
<text font-size="9.4" text-anchor="middle" fill="#111" stroke="#111" transform="translate(221.6 352.5)">Fat</text>
<text font-size="9.4" text-anchor="middle" fill="#111" stroke="#111" transform="translate(258.6 352.5)">Lean</text>
<text font-size="9.4" text-anchor="middle" fill="#111" stroke="#111" transform="translate(176.38 303.2) rotate(-90)">Body composition</text>
<text font-size="9.4" text-anchor="middle" fill="#111" stroke="#111" transform="translate(186.38 302.6) rotate(-90)">(% of body weight)</text>
<text font-size="13.5" text-anchor="start" fill="#111" stroke="#111" transform="translate(308.7 202)">g</text>
<circle cx="352" cy="226.7" r="1.35" fill="#2b3bd0"/>
<text font-size="9.4" text-anchor="start" fill="#111" stroke="#111" transform="translate(360.8 230.04)">shScr HFD</text>
<circle cx="352" cy="240.1" r="1.35" fill="#d81f37"/>
<text font-size="9.4" text-anchor="start" fill="#111" stroke="#111" transform="translate(360.8 243.44)">shFak/Pyk2 HFD</text>
<line x1="367.5" y1="270.1" x2="367.5" y2="339.6" stroke="#1a1a1a" stroke-width="1"/>
<line x1="364.4" y1="270.5" x2="367" y2="270.5" stroke="#1a1a1a" stroke-width="1"/>
<text font-size="9.4" text-anchor="end" fill="#111" stroke="#111" transform="translate(363.2 273.44)">40</text>
<line x1="364.4" y1="287.5" x2="367" y2="287.5" stroke="#1a1a1a" stroke-width="1"/>
<text font-size="9.4" text-anchor="end" fill="#111" stroke="#111" transform="translate(363.2 290.81)">30</text>
<line x1="364.4" y1="304.5" x2="367" y2="304.5" stroke="#1a1a1a" stroke-width="1"/>
<text font-size="9.4" text-anchor="end" fill="#111" stroke="#111" transform="translate(363.2 308.19)">20</text>
<line x1="364.4" y1="322.5" x2="367" y2="322.5" stroke="#1a1a1a" stroke-width="1"/>
<text font-size="9.4" text-anchor="end" fill="#111" stroke="#111" transform="translate(363.2 325.56)">10</text>
<line x1="364.4" y1="339.5" x2="367" y2="339.5" stroke="#1a1a1a" stroke-width="1"/>
<text font-size="9.4" text-anchor="end" fill="#111" stroke="#111" transform="translate(363.2 342.94)">0</text>
<rect x="372.5" y="315.5" width="9" height="24.1" fill="#fff" stroke="#2b3bd0" stroke-width="1"/>
<rect x="386.5" y="293.5" width="8" height="46.1" fill="#fff" stroke="#d81f37" stroke-width="1"/>
<rect x="409.5" y="301.5" width="8" height="38.1" fill="#fff" stroke="#2b3bd0" stroke-width="1"/>
<rect x="423.5" y="296.5" width="8" height="43.1" fill="#fff" stroke="#d81f37" stroke-width="1"/>
<circle cx="377.08" cy="306.59" r="1.45" fill="#2b3bd0"/>
<circle cx="372.85" cy="311.8" r="1.45" fill="#2b3bd0"/>
<circle cx="380.86" cy="313.54" r="1.45" fill="#2b3bd0"/>
<circle cx="375.38" cy="314.41" r="1.45" fill="#2b3bd0"/>
<circle cx="379.03" cy="315.28" r="1.45" fill="#2b3bd0"/>
<circle cx="377.21" cy="317.01" r="1.45" fill="#2b3bd0"/>
<circle cx="373.03" cy="318.75" r="1.45" fill="#2b3bd0"/>
<circle cx="380.61" cy="322.23" r="1.45" fill="#2b3bd0"/>
<circle cx="375.4" cy="323.09" r="1.45" fill="#2b3bd0"/>
<line x1="376.95" y1="313.19" x2="376.95" y2="317.36" stroke="#2b3bd0" stroke-width="0.8"/>
<line x1="375.15" y1="313.19" x2="378.75" y2="313.19" stroke="#2b3bd0" stroke-width="0.8"/>
<line x1="375.15" y1="317.36" x2="378.75" y2="317.36" stroke="#2b3bd0" stroke-width="0.8"/>
<circle cx="389.82" cy="277.92" r="1.45" fill="#d81f37"/>
<circle cx="386.77" cy="280.53" r="1.45" fill="#d81f37"/>
<circle cx="393.33" cy="285.74" r="1.45" fill="#d81f37"/>
<circle cx="388.36" cy="289.21" r="1.45" fill="#d81f37"/>
<circle cx="391.38" cy="292.69" r="1.45" fill="#d81f37"/>
<circle cx="390.41" cy="294.43" r="1.45" fill="#d81f37"/>
<circle cx="386.5" cy="297.9" r="1.45" fill="#d81f37"/>
<circle cx="393.4" cy="301.38" r="1.45" fill="#d81f37"/>
<circle cx="388.58" cy="306.59" r="1.45" fill="#d81f37"/>
<circle cx="392.03" cy="308.33" r="1.45" fill="#d81f37"/>
<line x1="390.2" y1="290.43" x2="390.2" y2="296.68" stroke="#d81f37" stroke-width="0.8"/>
<line x1="388.4" y1="290.43" x2="392" y2="290.43" stroke="#d81f37" stroke-width="0.8"/>
<line x1="388.4" y1="296.68" x2="392" y2="296.68" stroke="#d81f37" stroke-width="0.8"/>
<circle cx="413.46" cy="297.03" r="1.45" fill="#2b3bd0"/>
<circle cx="410.36" cy="298.77" r="1.45" fill="#2b3bd0"/>
<circle cx="417.24" cy="299.64" r="1.45" fill="#2b3bd0"/>
<circle cx="412.58" cy="300.51" r="1.45" fill="#2b3bd0"/>
<circle cx="415.59" cy="301.38" r="1.45" fill="#2b3bd0"/>
<circle cx="414.09" cy="302.24" r="1.45" fill="#2b3bd0"/>
<circle cx="410.22" cy="303.11" r="1.45" fill="#2b3bd0"/>
<circle cx="417.13" cy="303.98" r="1.45" fill="#2b3bd0"/>
<line x1="413.8" y1="300.51" x2="413.8" y2="302.24" stroke="#2b3bd0" stroke-width="0.8"/>
<line x1="412" y1="300.51" x2="415.6" y2="300.51" stroke="#2b3bd0" stroke-width="0.8"/>
<line x1="412" y1="302.24" x2="415.6" y2="302.24" stroke="#2b3bd0" stroke-width="0.8"/>
<circle cx="427.44" cy="292.69" r="1.45" fill="#d81f37"/>
<circle cx="424.61" cy="293.56" r="1.45" fill="#d81f37"/>
<circle cx="431.17" cy="294.43" r="1.45" fill="#d81f37"/>
<circle cx="425.81" cy="295.29" r="1.45" fill="#d81f37"/>
<circle cx="428.75" cy="296.16" r="1.45" fill="#d81f37"/>
<circle cx="427.34" cy="297.03" r="1.45" fill="#d81f37"/>
<circle cx="424.09" cy="297.9" r="1.45" fill="#d81f37"/>
<circle cx="430.79" cy="298.77" r="1.45" fill="#d81f37"/>
<circle cx="426.16" cy="299.64" r="1.45" fill="#d81f37"/>
<line x1="427.55" y1="295.47" x2="427.55" y2="296.86" stroke="#d81f37" stroke-width="0.8"/>
<line x1="425.75" y1="295.47" x2="429.35" y2="295.47" stroke="#d81f37" stroke-width="0.8"/>
<line x1="425.75" y1="296.86" x2="429.35" y2="296.86" stroke="#d81f37" stroke-width="0.8"/>
<line x1="367" y1="339.5" x2="436.5" y2="339.5" stroke="#1a1a1a" stroke-width="1"/>
<line x1="383.5" y1="339.6" x2="383.5" y2="342.2" stroke="#1a1a1a" stroke-width="1"/>
<line x1="420.5" y1="339.6" x2="420.5" y2="342.2" stroke="#1a1a1a" stroke-width="1"/>
<polyline points="376.5,303 376.5,269.5 390.5,269.5 390.5,274.4" fill="none" stroke="#1a1a1a" stroke-width="1" stroke-linejoin="round"/>
<text font-size="5.7" text-anchor="middle" fill="#111" stroke="#111" stroke-width="0.3" transform="translate(383.6 265.6)">&lt;0.0001</text>
<polyline points="414.5,293 414.5,269.5 427.5,269.5 427.5,288" fill="none" stroke="#1a1a1a" stroke-width="1" stroke-linejoin="round"/>
<text font-size="5.7" text-anchor="middle" fill="#111" stroke="#111" stroke-width="0.3" transform="translate(420.95 265.6)">0.2198</text>
<text font-size="9.4" text-anchor="middle" fill="#111" stroke="#111" transform="translate(383.6 352.6)">Fat</text>
<text font-size="9.4" text-anchor="middle" fill="#111" stroke="#111" transform="translate(420.8 352.6)">Lean</text>
<text font-size="9.4" text-anchor="middle" fill="#111" stroke="#111" transform="translate(348.38 303) rotate(-90)">Body composition (g)</text>
<text font-size="13.5" text-anchor="start" fill="#111" stroke="#111" transform="translate(512.8 205.4)">h</text>
<circle cx="555.3" cy="229.7" r="1.35" fill="#2b3bd0"/>
<text font-size="9.4" text-anchor="start" fill="#111" stroke="#111" transform="translate(562.7 233.04)">shScr HFD</text>
<circle cx="555.3" cy="242.9" r="1.35" fill="#d81f37"/>
<text font-size="9.4" text-anchor="start" fill="#111" stroke="#111" transform="translate(562.7 246.24)">shFak/Pyk2 HFD</text>
<line x1="558.5" y1="270.6" x2="558.5" y2="340.1" stroke="#1a1a1a" stroke-width="1"/>
<line x1="555.7" y1="270.5" x2="558.3" y2="270.5" stroke="#1a1a1a" stroke-width="1"/>
<text font-size="9.4" text-anchor="end" fill="#111" stroke="#111" transform="translate(554.5 273.94)">80</text>
<line x1="555.7" y1="287.5" x2="558.3" y2="287.5" stroke="#1a1a1a" stroke-width="1"/>
<text font-size="9.4" text-anchor="end" fill="#111" stroke="#111" transform="translate(554.5 291.31)">60</text>
<line x1="555.7" y1="305.5" x2="558.3" y2="305.5" stroke="#1a1a1a" stroke-width="1"/>
<text font-size="9.4" text-anchor="end" fill="#111" stroke="#111" transform="translate(554.5 308.69)">40</text>
<line x1="555.7" y1="322.5" x2="558.3" y2="322.5" stroke="#1a1a1a" stroke-width="1"/>
<text font-size="9.4" text-anchor="end" fill="#111" stroke="#111" transform="translate(554.5 326.06)">20</text>
<line x1="555.7" y1="340.5" x2="558.3" y2="340.5" stroke="#1a1a1a" stroke-width="1"/>
<text font-size="9.4" text-anchor="end" fill="#111" stroke="#111" transform="translate(554.5 343.44)">0</text>
<rect x="563.5" y="309.5" width="9" height="30.6" fill="#fff" stroke="#2b3bd0" stroke-width="1"/>
<rect x="577.5" y="299.5" width="8" height="40.6" fill="#fff" stroke="#d81f37" stroke-width="1"/>
<rect x="600.5" y="292.5" width="9" height="47.6" fill="#fff" stroke="#2b3bd0" stroke-width="1"/>
<rect x="614.5" y="301.5" width="9" height="38.6" fill="#fff" stroke="#d81f37" stroke-width="1"/>
<circle cx="567.71" cy="301.88" r="1.45" fill="#2b3bd0"/>
<circle cx="564" cy="304.48" r="1.45" fill="#2b3bd0"/>
<circle cx="571.34" cy="307.09" r="1.45" fill="#2b3bd0"/>
<circle cx="566.22" cy="308.83" r="1.45" fill="#2b3bd0"/>
<circle cx="569.53" cy="309.69" r="1.45" fill="#2b3bd0"/>
<circle cx="568.26" cy="310.56" r="1.45" fill="#2b3bd0"/>
<circle cx="564.55" cy="312.3" r="1.45" fill="#2b3bd0"/>
<circle cx="571.41" cy="314.91" r="1.45" fill="#2b3bd0"/>
<circle cx="566.42" cy="317.51" r="1.45" fill="#2b3bd0"/>
<line x1="567.9" y1="307.96" x2="567.9" y2="311.43" stroke="#2b3bd0" stroke-width="0.8"/>
<line x1="566.1" y1="307.96" x2="569.7" y2="307.96" stroke="#2b3bd0" stroke-width="0.8"/>
<line x1="566.1" y1="311.43" x2="569.7" y2="311.43" stroke="#2b3bd0" stroke-width="0.8"/>
<circle cx="581.69" cy="291.45" r="1.45" fill="#d81f37"/>
<circle cx="577.64" cy="293.19" r="1.45" fill="#d81f37"/>
<circle cx="585.42" cy="294.93" r="1.45" fill="#d81f37"/>
<circle cx="580.18" cy="297.53" r="1.45" fill="#d81f37"/>
<circle cx="583.45" cy="298.4" r="1.45" fill="#d81f37"/>
<circle cx="581.79" cy="299.27" r="1.45" fill="#d81f37"/>
<circle cx="577.91" cy="301.01" r="1.45" fill="#d81f37"/>
<circle cx="585.02" cy="302.74" r="1.45" fill="#d81f37"/>
<circle cx="579.64" cy="304.48" r="1.45" fill="#d81f37"/>
<circle cx="583.25" cy="305.35" r="1.45" fill="#d81f37"/>
<line x1="581.55" y1="297.97" x2="581.55" y2="300.57" stroke="#d81f37" stroke-width="0.8"/>
<line x1="579.75" y1="297.97" x2="583.35" y2="297.97" stroke="#d81f37" stroke-width="0.8"/>
<line x1="579.75" y1="300.57" x2="583.35" y2="300.57" stroke="#d81f37" stroke-width="0.8"/>
<circle cx="604.45" cy="285.37" r="1.45" fill="#2b3bd0"/>
<circle cx="600.85" cy="287.98" r="1.45" fill="#2b3bd0"/>
<circle cx="608.17" cy="289.71" r="1.45" fill="#2b3bd0"/>
<circle cx="602.91" cy="291.45" r="1.45" fill="#2b3bd0"/>
<circle cx="606.29" cy="292.32" r="1.45" fill="#2b3bd0"/>
<circle cx="604.44" cy="294.06" r="1.45" fill="#2b3bd0"/>
<circle cx="600.8" cy="295.79" r="1.45" fill="#2b3bd0"/>
<circle cx="608.12" cy="297.53" r="1.45" fill="#2b3bd0"/>
<line x1="604.8" y1="291.02" x2="604.8" y2="293.62" stroke="#2b3bd0" stroke-width="0.8"/>
<line x1="603" y1="291.02" x2="606.6" y2="291.02" stroke="#2b3bd0" stroke-width="0.8"/>
<line x1="603" y1="293.62" x2="606.6" y2="293.62" stroke="#2b3bd0" stroke-width="0.8"/>
<circle cx="618.43" cy="294.93" r="1.45" fill="#d81f37"/>
<circle cx="615.09" cy="296.66" r="1.45" fill="#d81f37"/>
<circle cx="621.92" cy="298.4" r="1.45" fill="#d81f37"/>
<circle cx="617.45" cy="300.14" r="1.45" fill="#d81f37"/>
<circle cx="620.44" cy="301.01" r="1.45" fill="#d81f37"/>
<circle cx="618.47" cy="301.88" r="1.45" fill="#d81f37"/>
<circle cx="615" cy="302.74" r="1.45" fill="#d81f37"/>
<circle cx="622.18" cy="303.61" r="1.45" fill="#d81f37"/>
<circle cx="617.04" cy="305.35" r="1.45" fill="#d81f37"/>
<circle cx="620.05" cy="307.09" r="1.45" fill="#d81f37"/>
<line x1="618.75" y1="299.79" x2="618.75" y2="302.22" stroke="#d81f37" stroke-width="0.8"/>
<line x1="616.95" y1="299.79" x2="620.55" y2="299.79" stroke="#d81f37" stroke-width="0.8"/>
<line x1="616.95" y1="302.22" x2="620.55" y2="302.22" stroke="#d81f37" stroke-width="0.8"/>
<line x1="558.3" y1="340.5" x2="627.7" y2="340.5" stroke="#1a1a1a" stroke-width="1"/>
<line x1="574.5" y1="340.1" x2="574.5" y2="342.7" stroke="#1a1a1a" stroke-width="1"/>
<line x1="611.5" y1="340.1" x2="611.5" y2="342.7" stroke="#1a1a1a" stroke-width="1"/>
<polyline points="567.5,300.4 567.5,275.5 581.5,275.5 581.5,288.8" fill="none" stroke="#1a1a1a" stroke-width="1" stroke-linejoin="round"/>
<text font-size="5.7" text-anchor="middle" fill="#111" stroke="#111" stroke-width="0.3" transform="translate(574.6 273.8)">0.0002</text>
<polyline points="604.5,282.3 604.5,275.5 619.5,275.5 619.5,290.5" fill="none" stroke="#1a1a1a" stroke-width="1" stroke-linejoin="round"/>
<text font-size="5.7" text-anchor="middle" fill="#111" stroke="#111" stroke-width="0.3" transform="translate(611.55 273.8)">0.0021</text>
<text font-size="9.4" text-anchor="middle" fill="#111" stroke="#111" transform="translate(574.4 352.6)">Fat</text>
<text font-size="9.4" text-anchor="middle" fill="#111" stroke="#111" transform="translate(611.6 352.6)">Lean</text>
<text font-size="9.4" text-anchor="middle" fill="#111" stroke="#111" transform="translate(529.38 302.9) rotate(-90)">Body composition</text>
<text font-size="9.4" text-anchor="middle" fill="#111" stroke="#111" transform="translate(539.38 302.9) rotate(-90)">(% of body weight)</text>
<text font-size="13.5" text-anchor="start" fill="#111" stroke="#111" transform="translate(2 417)">i</text>
<line x1="53.5" y1="487.1" x2="53.5" y2="556.3" stroke="#1a1a1a" stroke-width="1"/>
<line x1="50.8" y1="487.5" x2="53.4" y2="487.5" stroke="#1a1a1a" stroke-width="1"/>
<text font-size="9.4" text-anchor="end" fill="#111" stroke="#111" transform="translate(49.6 490.44)">400</text>
<line x1="50.8" y1="504.5" x2="53.4" y2="504.5" stroke="#1a1a1a" stroke-width="1"/>
<text font-size="9.4" text-anchor="end" fill="#111" stroke="#111" transform="translate(49.6 507.74)">300</text>
<line x1="50.8" y1="521.5" x2="53.4" y2="521.5" stroke="#1a1a1a" stroke-width="1"/>
<text font-size="9.4" text-anchor="end" fill="#111" stroke="#111" transform="translate(49.6 525.04)">200</text>
<line x1="50.8" y1="539.5" x2="53.4" y2="539.5" stroke="#1a1a1a" stroke-width="1"/>
<text font-size="9.4" text-anchor="end" fill="#111" stroke="#111" transform="translate(49.6 542.34)">100</text>
<line x1="50.8" y1="556.5" x2="53.4" y2="556.5" stroke="#1a1a1a" stroke-width="1"/>
<text font-size="9.4" text-anchor="end" fill="#111" stroke="#111" transform="translate(49.6 559.64)">0</text>
<line x1="53.4" y1="556.5" x2="157.6" y2="556.5" stroke="#1a1a1a" stroke-width="1"/>
<line x1="70.5" y1="556.3" x2="70.5" y2="558.9" stroke="#1a1a1a" stroke-width="1"/>
<line x1="94.5" y1="556.3" x2="94.5" y2="558.9" stroke="#1a1a1a" stroke-width="1"/>
<line x1="118.5" y1="556.3" x2="118.5" y2="558.9" stroke="#1a1a1a" stroke-width="1"/>
<line x1="142.5" y1="556.3" x2="142.5" y2="558.9" stroke="#1a1a1a" stroke-width="1"/>
<rect x="62.4" y="530.98" width="2.2" height="2.2" fill="none" stroke="#a9aef5" stroke-width="0.6"/>
<rect x="64.4" y="529.25" width="2.2" height="2.2" fill="none" stroke="#a9aef5" stroke-width="0.6"/>
<rect x="66.4" y="529.94" width="2.2" height="2.2" fill="none" stroke="#a9aef5" stroke-width="0.6"/>
<rect x="68.4" y="530.12" width="2.2" height="2.2" fill="none" stroke="#a9aef5" stroke-width="0.6"/>
<rect x="70.4" y="529.6" width="2.2" height="2.2" fill="none" stroke="#a9aef5" stroke-width="0.6"/>
<rect x="72.4" y="530.29" width="2.2" height="2.2" fill="none" stroke="#a9aef5" stroke-width="0.6"/>
<rect x="74.4" y="528.9" width="2.2" height="2.2" fill="none" stroke="#a9aef5" stroke-width="0.6"/>
<rect x="76.4" y="530.81" width="2.2" height="2.2" fill="none" stroke="#a9aef5" stroke-width="0.6"/>
<line x1="65.5" y1="531.5" x2="75.5" y2="531.5" stroke="#888" stroke-width="1"/>
<line x1="70.5" y1="530.52" x2="70.5" y2="531.56" stroke="#888" stroke-width="1"/>
<line x1="68.5" y1="530.5" x2="72.5" y2="530.5" stroke="#888" stroke-width="1"/>
<line x1="68.5" y1="531.5" x2="72.5" y2="531.5" stroke="#888" stroke-width="1"/>
<polygon points="88.4,523.71 86.9,526.41 89.9,526.41" fill="#f07cc4"/>
<polygon points="90.4,523.71 88.9,526.41 91.9,526.41" fill="#f07cc4"/>
<polygon points="92.4,524.23 90.9,526.93 93.9,526.93" fill="#f07cc4"/>
<polygon points="94.4,523.54 92.9,526.24 95.9,526.24" fill="#f07cc4"/>
<polygon points="96.4,523.89 94.9,526.59 97.9,526.59" fill="#f07cc4"/>
<polygon points="98.4,523.71 96.9,526.41 99.9,526.41" fill="#f07cc4"/>
<polygon points="100.4,523.54 98.9,526.24 101.9,526.24" fill="#f07cc4"/>
<polygon points="94.4,516.97 92.9,519.67 95.9,519.67" fill="#f07cc4"/>
<polygon points="92.4,530.11 90.9,532.81 93.9,532.81" fill="#f07cc4"/>
<polygon points="96.4,529.08 94.9,531.78 97.9,531.78" fill="#f07cc4"/>
<line x1="89.4" y1="525.5" x2="99.4" y2="525.5" stroke="#999" stroke-width="1"/>
<line x1="94.5" y1="524.29" x2="94.5" y2="526.72" stroke="#999" stroke-width="1"/>
<line x1="92.4" y1="524.5" x2="96.4" y2="524.5" stroke="#999" stroke-width="1"/>
<line x1="92.4" y1="526.5" x2="96.4" y2="526.5" stroke="#999" stroke-width="1"/>
<rect x="110.9" y="523.07" width="2.8" height="2.8" fill="#1f33c8"/>
<rect x="112.9" y="520.3" width="2.8" height="2.8" fill="#1f33c8"/>
<rect x="114.9" y="522.38" width="2.8" height="2.8" fill="#1f33c8"/>
<rect x="116.9" y="522.72" width="2.8" height="2.8" fill="#1f33c8"/>
<rect x="118.9" y="518.57" width="2.8" height="2.8" fill="#1f33c8"/>
<rect x="120.9" y="523.76" width="2.8" height="2.8" fill="#1f33c8"/>
<rect x="122.9" y="522.55" width="2.8" height="2.8" fill="#1f33c8"/>
<rect x="114.9" y="526.36" width="2.8" height="2.8" fill="#1f33c8"/>
<rect x="118.9" y="525.84" width="2.8" height="2.8" fill="#1f33c8"/>
<line x1="113.3" y1="524.5" x2="123.3" y2="524.5" stroke="#999" stroke-width="1"/>
<line x1="118.5" y1="523.08" x2="118.5" y2="525.16" stroke="#999" stroke-width="1"/>
<line x1="116.3" y1="523.5" x2="120.3" y2="523.5" stroke="#999" stroke-width="1"/>
<line x1="116.3" y1="525.5" x2="120.3" y2="525.5" stroke="#999" stroke-width="1"/>
<polygon points="136.3,514.54 134.8,517.24 137.8,517.24" fill="#d81b2c"/>
<polygon points="138.3,513.85 136.8,516.55 139.8,516.55" fill="#d81b2c"/>
<polygon points="140.3,514.89 138.8,517.59 141.8,517.59" fill="#d81b2c"/>
<polygon points="142.3,515.24 140.8,517.94 143.8,517.94" fill="#d81b2c"/>
<polygon points="144.3,514.2 142.8,516.9 145.8,516.9" fill="#d81b2c"/>
<polygon points="146.3,515.06 144.8,517.76 147.8,517.76" fill="#d81b2c"/>
<polygon points="148.3,514.72 146.8,517.42 149.8,517.42" fill="#d81b2c"/>
<polygon points="142.3,499.32 140.8,502.02 143.8,502.02" fill="#d81b2c"/>
<polygon points="142.3,508.32 140.8,511.02 143.8,511.02" fill="#d81b2c"/>
<polygon points="142.3,518.87 140.8,521.57 143.8,521.57" fill="#d81b2c"/>
<polygon points="142.3,523.19 140.8,525.89 143.8,525.89" fill="#d81b2c"/>
<line x1="137.3" y1="515.5" x2="147.3" y2="515.5" stroke="#333" stroke-width="1"/>
<line x1="142.5" y1="513.4" x2="142.5" y2="517.89" stroke="#333" stroke-width="1"/>
<line x1="140.3" y1="513.5" x2="144.3" y2="513.5" stroke="#333" stroke-width="1"/>
<line x1="140.3" y1="517.5" x2="144.3" y2="517.5" stroke="#333" stroke-width="1"/>
<line x1="138.3" y1="513.5" x2="146.3" y2="513.5" stroke="#f0a0a8" stroke-width="1"/>
<polyline points="70.5,525 70.5,492.5 94.5,492.5 94.5,514" fill="none" stroke="#1a1a1a" stroke-width="1" stroke-linejoin="round"/>
<text font-size="5.7" text-anchor="middle" fill="#111" stroke="#111" stroke-width="0.3" transform="translate(82.45 489.3)">0.1594</text>
<polyline points="118.5,516 118.5,492.5 142.5,492.5 142.5,496.6" fill="none" stroke="#1a1a1a" stroke-width="1" stroke-linejoin="round"/>
<text font-size="5.7" text-anchor="middle" fill="#111" stroke="#111" stroke-width="0.3" transform="translate(130.3 489.3)">0.0045</text>
<polyline points="70.5,483 70.5,477.5 118.5,477.5 118.5,483" fill="none" stroke="#1a1a1a" stroke-width="1" stroke-linejoin="round"/>
<text font-size="5.7" text-anchor="middle" fill="#111" stroke="#111" stroke-width="0.3" transform="translate(94.4 474)">0.0344</text>
<polyline points="94.5,467 94.5,462.5 142.5,462.5 142.5,481.7" fill="none" stroke="#1a1a1a" stroke-width="1" stroke-linejoin="round"/>
<text font-size="5.7" text-anchor="middle" fill="#111" stroke="#111" stroke-width="0.3" transform="translate(118.35 459)">0.0002</text>
<text font-size="9.4" text-anchor="end" fill="#111" stroke="#111" transform="translate(72.5 566.3) rotate(-45)">shScr Chow</text>
<text font-size="9.4" text-anchor="end" fill="#111" stroke="#111" transform="translate(96.4 566.3) rotate(-45)">shFak/Pyk2 Chow</text>
<text font-size="9.4" text-anchor="end" fill="#111" stroke="#111" transform="translate(120.3 566.3) rotate(-45)">shScr &#160;HFD</text>
<text font-size="9.4" text-anchor="end" fill="#111" stroke="#111" transform="translate(144.3 566.3) rotate(-45)">shFak/Pyk2 HFD</text>
<text font-size="9.4" text-anchor="middle" fill="#111" stroke="#111" transform="translate(28.08 518.4) rotate(-90) scale(1 1)">Blood glucose (mg dL<tspan dy="-3.2" font-size="6.2">-1</tspan><tspan dy="3.2">)</tspan></text>
<text font-size="13.5" text-anchor="start" fill="#111" stroke="#111" transform="translate(179.5 416.3)">j</text>
<circle cx="209.9" cy="408.3" r="1.05" fill="#1c1c1c"/>
<text font-size="9.4" text-anchor="start" fill="#111" stroke="#111" transform="translate(217.5 411.64)">shScr Veh</text>
<circle cx="209.9" cy="426.1" r="1.05" fill="#f8337b"/>
<text font-size="9.4" text-anchor="start" fill="#111" stroke="#111" transform="translate(217.5 429.44)">shScr Leptin</text>
<circle cx="286.5" cy="408.3" r="1.05" fill="#1e9898"/>
<text font-size="9.4" text-anchor="start" fill="#111" stroke="#111" transform="translate(294.2 411.64)">shFak/Pyk2 Veh</text>
<circle cx="286.5" cy="426.1" r="1.05" fill="#6c34ad"/>
<text font-size="9.4" text-anchor="start" fill="#111" stroke="#111" transform="translate(294.2 429.44)">shFak/Pyk2 Leptin</text>
<line x1="229.5" y1="463.3" x2="229.5" y2="556.3" stroke="#1a1a1a" stroke-width="1"/>
<line x1="227.1" y1="463.5" x2="229.7" y2="463.5" stroke="#1a1a1a" stroke-width="1"/>
<text font-size="9.4" text-anchor="end" fill="#111" stroke="#111" transform="translate(225.9 466.64)">6</text>
<line x1="227.1" y1="494.5" x2="229.7" y2="494.5" stroke="#1a1a1a" stroke-width="1"/>
<text font-size="9.4" text-anchor="end" fill="#111" stroke="#111" transform="translate(225.9 497.64)">4</text>
<line x1="227.1" y1="525.5" x2="229.7" y2="525.5" stroke="#1a1a1a" stroke-width="1"/>
<text font-size="9.4" text-anchor="end" fill="#111" stroke="#111" transform="translate(225.9 528.64)">2</text>
<line x1="227.1" y1="556.5" x2="229.7" y2="556.5" stroke="#1a1a1a" stroke-width="1"/>
<text font-size="9.4" text-anchor="end" fill="#111" stroke="#111" transform="translate(225.9 559.64)">0</text>
<rect x="233.5" y="540.5" width="4" height="15.8" fill="#fff" stroke="#1c1c1c" stroke-width="1"/>
<rect x="240.5" y="543.5" width="4" height="12.8" fill="#fff" stroke="#f8337b" stroke-width="1"/>
<rect x="248.5" y="536.5" width="4" height="19.8" fill="#fff" stroke="#1e9898" stroke-width="1"/>
<rect x="256.5" y="536.5" width="4" height="19.8" fill="#fff" stroke="#6c34ad" stroke-width="1"/>
<rect x="269.5" y="522.5" width="4" height="33.8" fill="#fff" stroke="#1c1c1c" stroke-width="1"/>
<rect x="277.5" y="530.5" width="4" height="25.8" fill="#fff" stroke="#f8337b" stroke-width="1"/>
<rect x="285.5" y="517.5" width="4" height="38.8" fill="#fff" stroke="#1e9898" stroke-width="1"/>
<rect x="292.5" y="518.5" width="5" height="37.8" fill="#fff" stroke="#6c34ad" stroke-width="1"/>
<rect x="305.5" y="499.5" width="5" height="56.8" fill="#fff" stroke="#1c1c1c" stroke-width="1"/>
<rect x="313.5" y="508.5" width="5" height="47.8" fill="#fff" stroke="#f8337b" stroke-width="1"/>
<rect x="321.5" y="491.5" width="5" height="64.8" fill="#fff" stroke="#1e9898" stroke-width="1"/>
<rect x="329.5" y="493.5" width="5" height="62.8" fill="#fff" stroke="#6c34ad" stroke-width="1"/>
<rect x="342.5" y="490.5" width="5" height="65.8" fill="#fff" stroke="#1c1c1c" stroke-width="1"/>
<rect x="350.5" y="499.5" width="4" height="56.8" fill="#fff" stroke="#f8337b" stroke-width="1"/>
<rect x="358.5" y="484.5" width="5" height="71.8" fill="#fff" stroke="#1e9898" stroke-width="1"/>
<rect x="365.5" y="485.5" width="5" height="70.8" fill="#fff" stroke="#6c34ad" stroke-width="1"/>
<circle cx="236.47" cy="540.8" r="1.15" fill="#1c1c1c"/>
<circle cx="237.07" cy="540.49" r="1.15" fill="#1c1c1c"/>
<circle cx="234.86" cy="540.02" r="1.15" fill="#1c1c1c"/>
<circle cx="234.93" cy="539.56" r="1.15" fill="#1c1c1c"/>
<circle cx="233.26" cy="539.25" r="1.15" fill="#1c1c1c"/>
<circle cx="233.33" cy="540.8" r="1.15" fill="#1c1c1c"/>
<circle cx="234.34" cy="541.26" r="1.15" fill="#1c1c1c"/>
<circle cx="234.01" cy="540.18" r="1.15" fill="#1c1c1c"/>
<line x1="235" y1="539.71" x2="235" y2="540.95" stroke="#1c1c1c" stroke-width="0.8"/>
<line x1="233.4" y1="539.71" x2="236.6" y2="539.71" stroke="#1c1c1c" stroke-width="0.8"/>
<line x1="233.4" y1="540.95" x2="236.6" y2="540.95" stroke="#1c1c1c" stroke-width="0.8"/>
<circle cx="244.13" cy="546.22" r="1.15" fill="#f8337b"/>
<circle cx="241.33" cy="545.14" r="1.15" fill="#f8337b"/>
<circle cx="240.75" cy="544.21" r="1.15" fill="#f8337b"/>
<circle cx="244.64" cy="543.59" r="1.15" fill="#f8337b"/>
<circle cx="242.87" cy="543.12" r="1.15" fill="#f8337b"/>
<circle cx="241.27" cy="542.35" r="1.15" fill="#f8337b"/>
<circle cx="242.93" cy="541.57" r="1.15" fill="#f8337b"/>
<circle cx="240.76" cy="539.25" r="1.15" fill="#f8337b"/>
<circle cx="242.87" cy="535.38" r="1.15" fill="#f8337b"/>
<line x1="242.75" y1="542.66" x2="242.75" y2="544.52" stroke="#f8337b" stroke-width="0.8"/>
<line x1="241.15" y1="542.66" x2="244.35" y2="542.66" stroke="#f8337b" stroke-width="0.8"/>
<line x1="241.15" y1="544.52" x2="244.35" y2="544.52" stroke="#f8337b" stroke-width="0.8"/>
<circle cx="252.76" cy="538.47" r="1.15" fill="#1e9898"/>
<circle cx="252.28" cy="537.7" r="1.15" fill="#1e9898"/>
<circle cx="251.57" cy="536.92" r="1.15" fill="#1e9898"/>
<circle cx="249.75" cy="536.46" r="1.15" fill="#1e9898"/>
<circle cx="250.19" cy="536.15" r="1.15" fill="#1e9898"/>
<circle cx="249.35" cy="535.38" r="1.15" fill="#1e9898"/>
<circle cx="251.89" cy="532.27" r="1.15" fill="#1e9898"/>
<circle cx="250.89" cy="531.19" r="1.15" fill="#1e9898"/>
<line x1="250.75" y1="535.06" x2="250.75" y2="537.54" stroke="#1e9898" stroke-width="0.8"/>
<line x1="249.15" y1="535.06" x2="252.35" y2="535.06" stroke="#1e9898" stroke-width="0.8"/>
<line x1="249.15" y1="537.54" x2="252.35" y2="537.54" stroke="#1e9898" stroke-width="0.8"/>
<circle cx="259.82" cy="540.8" r="1.15" fill="#6c34ad"/>
<circle cx="257.93" cy="539.25" r="1.15" fill="#6c34ad"/>
<circle cx="257.49" cy="537.7" r="1.15" fill="#6c34ad"/>
<circle cx="259.96" cy="536.92" r="1.15" fill="#6c34ad"/>
<circle cx="260.69" cy="536.15" r="1.15" fill="#6c34ad"/>
<circle cx="260.13" cy="535.84" r="1.15" fill="#6c34ad"/>
<circle cx="259.94" cy="535.38" r="1.15" fill="#6c34ad"/>
<circle cx="259.99" cy="536.46" r="1.15" fill="#6c34ad"/>
<line x1="258.65" y1="536" x2="258.65" y2="537.85" stroke="#6c34ad" stroke-width="0.8"/>
<line x1="257.05" y1="536" x2="260.25" y2="536" stroke="#6c34ad" stroke-width="0.8"/>
<line x1="257.05" y1="537.85" x2="260.25" y2="537.85" stroke="#6c34ad" stroke-width="0.8"/>
<circle cx="272.51" cy="523.75" r="1.15" fill="#1c1c1c"/>
<circle cx="270.35" cy="522.97" r="1.15" fill="#1c1c1c"/>
<circle cx="271.57" cy="522.2" r="1.15" fill="#1c1c1c"/>
<circle cx="270.89" cy="522.51" r="1.15" fill="#1c1c1c"/>
<circle cx="269.52" cy="523.44" r="1.15" fill="#1c1c1c"/>
<circle cx="269.52" cy="526.07" r="1.15" fill="#1c1c1c"/>
<circle cx="270.57" cy="524.52" r="1.15" fill="#1c1c1c"/>
<circle cx="270.49" cy="522.2" r="1.15" fill="#1c1c1c"/>
<line x1="271.5" y1="522.35" x2="271.5" y2="523.59" stroke="#1c1c1c" stroke-width="0.8"/>
<line x1="269.9" y1="522.35" x2="273.1" y2="522.35" stroke="#1c1c1c" stroke-width="0.8"/>
<line x1="269.9" y1="523.59" x2="273.1" y2="523.59" stroke="#1c1c1c" stroke-width="0.8"/>
<circle cx="280.01" cy="536.15" r="1.15" fill="#f8337b"/>
<circle cx="281.12" cy="533.82" r="1.15" fill="#f8337b"/>
<circle cx="278.98" cy="532.27" r="1.15" fill="#f8337b"/>
<circle cx="281.04" cy="531.5" r="1.15" fill="#f8337b"/>
<circle cx="281.25" cy="529.95" r="1.15" fill="#f8337b"/>
<circle cx="281.11" cy="528.4" r="1.15" fill="#f8337b"/>
<circle cx="278.63" cy="526.85" r="1.15" fill="#f8337b"/>
<circle cx="278.03" cy="525.3" r="1.15" fill="#f8337b"/>
<circle cx="278.05" cy="518.32" r="1.15" fill="#f8337b"/>
<line x1="279.2" y1="529.02" x2="279.2" y2="532.12" stroke="#f8337b" stroke-width="0.8"/>
<line x1="277.6" y1="529.02" x2="280.8" y2="529.02" stroke="#f8337b" stroke-width="0.8"/>
<line x1="277.6" y1="532.12" x2="280.8" y2="532.12" stroke="#f8337b" stroke-width="0.8"/>
<circle cx="285.78" cy="523.75" r="1.15" fill="#1e9898"/>
<circle cx="285.81" cy="520.65" r="1.15" fill="#1e9898"/>
<circle cx="287.57" cy="519.1" r="1.15" fill="#1e9898"/>
<circle cx="288.73" cy="517.55" r="1.15" fill="#1e9898"/>
<circle cx="288.48" cy="516" r="1.15" fill="#1e9898"/>
<circle cx="286.96" cy="514.45" r="1.15" fill="#1e9898"/>
<circle cx="287.69" cy="513.67" r="1.15" fill="#1e9898"/>
<circle cx="288.31" cy="511.35" r="1.15" fill="#1e9898"/>
<circle cx="285.31" cy="508.25" r="1.15" fill="#1e9898"/>
<line x1="287.05" y1="514.76" x2="287.05" y2="519.41" stroke="#1e9898" stroke-width="0.8"/>
<line x1="285.45" y1="514.76" x2="288.65" y2="514.76" stroke="#1e9898" stroke-width="0.8"/>
<line x1="285.45" y1="519.41" x2="288.65" y2="519.41" stroke="#1e9898" stroke-width="0.8"/>
<circle cx="295.57" cy="526.85" r="1.15" fill="#6c34ad"/>
<circle cx="296.62" cy="523.75" r="1.15" fill="#6c34ad"/>
<circle cx="296.09" cy="520.65" r="1.15" fill="#6c34ad"/>
<circle cx="295.95" cy="519.1" r="1.15" fill="#6c34ad"/>
<circle cx="294.81" cy="517.55" r="1.15" fill="#6c34ad"/>
<circle cx="293.55" cy="516" r="1.15" fill="#6c34ad"/>
<circle cx="296.11" cy="514.45" r="1.15" fill="#6c34ad"/>
<circle cx="294.2" cy="512.9" r="1.15" fill="#6c34ad"/>
<line x1="294.9" y1="516.46" x2="294.9" y2="520.18" stroke="#6c34ad" stroke-width="0.8"/>
<line x1="293.3" y1="516.46" x2="296.5" y2="516.46" stroke="#6c34ad" stroke-width="0.8"/>
<line x1="293.3" y1="520.18" x2="296.5" y2="520.18" stroke="#6c34ad" stroke-width="0.8"/>
<circle cx="309.26" cy="502.82" r="1.15" fill="#1c1c1c"/>
<circle cx="309.98" cy="502.05" r="1.15" fill="#1c1c1c"/>
<circle cx="307.56" cy="501.27" r="1.15" fill="#1c1c1c"/>
<circle cx="307.59" cy="500.5" r="1.15" fill="#1c1c1c"/>
<circle cx="309.88" cy="499.72" r="1.15" fill="#1c1c1c"/>
<circle cx="308.94" cy="498.95" r="1.15" fill="#1c1c1c"/>
<circle cx="306.61" cy="498.17" r="1.15" fill="#1c1c1c"/>
<circle cx="306.43" cy="497.4" r="1.15" fill="#1c1c1c"/>
<line x1="308" y1="498.95" x2="308" y2="500.5" stroke="#1c1c1c" stroke-width="0.8"/>
<line x1="306.4" y1="498.95" x2="309.6" y2="498.95" stroke="#1c1c1c" stroke-width="0.8"/>
<line x1="306.4" y1="500.5" x2="309.6" y2="500.5" stroke="#1c1c1c" stroke-width="0.8"/>
<circle cx="314.53" cy="511.35" r="1.15" fill="#f8337b"/>
<circle cx="317.7" cy="510.57" r="1.15" fill="#f8337b"/>
<circle cx="317.29" cy="509.8" r="1.15" fill="#f8337b"/>
<circle cx="314.51" cy="509.02" r="1.15" fill="#f8337b"/>
<circle cx="317.37" cy="508.25" r="1.15" fill="#f8337b"/>
<circle cx="318.02" cy="507.47" r="1.15" fill="#f8337b"/>
<circle cx="316.66" cy="506.7" r="1.15" fill="#f8337b"/>
<circle cx="315.37" cy="505.15" r="1.15" fill="#f8337b"/>
<circle cx="316.2" cy="494.3" r="1.15" fill="#f8337b"/>
<line x1="316" y1="507.32" x2="316" y2="509.18" stroke="#f8337b" stroke-width="0.8"/>
<line x1="314.4" y1="507.32" x2="317.6" y2="507.32" stroke="#f8337b" stroke-width="0.8"/>
<line x1="314.4" y1="509.18" x2="317.6" y2="509.18" stroke="#f8337b" stroke-width="0.8"/>
<circle cx="322.4" cy="498.95" r="1.15" fill="#1e9898"/>
<circle cx="321.91" cy="497.4" r="1.15" fill="#1e9898"/>
<circle cx="325.93" cy="495.85" r="1.15" fill="#1e9898"/>
<circle cx="324.58" cy="494.3" r="1.15" fill="#1e9898"/>
<circle cx="324.06" cy="492.75" r="1.15" fill="#1e9898"/>
<circle cx="325.77" cy="491.2" r="1.15" fill="#1e9898"/>
<circle cx="323.67" cy="488.1" r="1.15" fill="#1e9898"/>
<circle cx="325.51" cy="485" r="1.15" fill="#1e9898"/>
<circle cx="325.32" cy="480.35" r="1.15" fill="#1e9898"/>
<circle cx="322.74" cy="475.7" r="1.15" fill="#1e9898"/>
<line x1="323.95" y1="488.87" x2="323.95" y2="495.07" stroke="#1e9898" stroke-width="0.8"/>
<line x1="322.35" y1="488.87" x2="325.55" y2="488.87" stroke="#1e9898" stroke-width="0.8"/>
<line x1="322.35" y1="495.07" x2="325.55" y2="495.07" stroke="#1e9898" stroke-width="0.8"/>
<circle cx="330.61" cy="500.5" r="1.15" fill="#6c34ad"/>
<circle cx="330.78" cy="498.95" r="1.15" fill="#6c34ad"/>
<circle cx="330.56" cy="497.4" r="1.15" fill="#6c34ad"/>
<circle cx="332.01" cy="495.07" r="1.15" fill="#6c34ad"/>
<circle cx="330.64" cy="493.52" r="1.15" fill="#6c34ad"/>
<circle cx="331.31" cy="491.97" r="1.15" fill="#6c34ad"/>
<circle cx="330.1" cy="489.65" r="1.15" fill="#6c34ad"/>
<circle cx="333.37" cy="488.1" r="1.15" fill="#6c34ad"/>
<circle cx="331.04" cy="481.9" r="1.15" fill="#6c34ad"/>
<line x1="331.65" y1="491.82" x2="331.65" y2="495.54" stroke="#6c34ad" stroke-width="0.8"/>
<line x1="330.05" y1="491.82" x2="333.25" y2="491.82" stroke="#6c34ad" stroke-width="0.8"/>
<line x1="330.05" y1="495.54" x2="333.25" y2="495.54" stroke="#6c34ad" stroke-width="0.8"/>
<circle cx="344.92" cy="494.3" r="1.15" fill="#1c1c1c"/>
<circle cx="345.45" cy="493.52" r="1.15" fill="#1c1c1c"/>
<circle cx="346.8" cy="492.75" r="1.15" fill="#1c1c1c"/>
<circle cx="344.77" cy="491.2" r="1.15" fill="#1c1c1c"/>
<circle cx="346.85" cy="489.65" r="1.15" fill="#1c1c1c"/>
<circle cx="345.11" cy="488.1" r="1.15" fill="#1c1c1c"/>
<circle cx="345.23" cy="486.55" r="1.15" fill="#1c1c1c"/>
<circle cx="345.2" cy="478.8" r="1.15" fill="#1c1c1c"/>
<line x1="345.1" y1="489.65" x2="345.1" y2="492.13" stroke="#1c1c1c" stroke-width="0.8"/>
<line x1="343.5" y1="489.65" x2="346.7" y2="489.65" stroke="#1c1c1c" stroke-width="0.8"/>
<line x1="343.5" y1="492.13" x2="346.7" y2="492.13" stroke="#1c1c1c" stroke-width="0.8"/>
<circle cx="350.78" cy="503.6" r="1.15" fill="#f8337b"/>
<circle cx="352.55" cy="502.05" r="1.15" fill="#f8337b"/>
<circle cx="351.47" cy="501.27" r="1.15" fill="#f8337b"/>
<circle cx="350.72" cy="500.5" r="1.15" fill="#f8337b"/>
<circle cx="354.06" cy="498.95" r="1.15" fill="#f8337b"/>
<circle cx="351.42" cy="498.17" r="1.15" fill="#f8337b"/>
<circle cx="352.69" cy="496.62" r="1.15" fill="#f8337b"/>
<circle cx="353.75" cy="481.9" r="1.15" fill="#f8337b"/>
<line x1="352.8" y1="498.02" x2="352.8" y2="500.5" stroke="#f8337b" stroke-width="0.8"/>
<line x1="351.2" y1="498.02" x2="354.4" y2="498.02" stroke="#f8337b" stroke-width="0.8"/>
<line x1="351.2" y1="500.5" x2="354.4" y2="500.5" stroke="#f8337b" stroke-width="0.8"/>
<circle cx="360.99" cy="488.1" r="1.15" fill="#1e9898"/>
<circle cx="360.02" cy="486.55" r="1.15" fill="#1e9898"/>
<circle cx="360.83" cy="485.77" r="1.15" fill="#1e9898"/>
<circle cx="360.98" cy="485" r="1.15" fill="#1e9898"/>
<circle cx="361.94" cy="483.45" r="1.15" fill="#1e9898"/>
<circle cx="359.1" cy="481.9" r="1.15" fill="#1e9898"/>
<circle cx="361" cy="480.35" r="1.15" fill="#1e9898"/>
<circle cx="359.69" cy="478.8" r="1.15" fill="#1e9898"/>
<circle cx="359.81" cy="469.5" r="1.15" fill="#1e9898"/>
<line x1="360.75" y1="482.36" x2="360.75" y2="487.01" stroke="#1e9898" stroke-width="0.8"/>
<line x1="359.15" y1="482.36" x2="362.35" y2="482.36" stroke="#1e9898" stroke-width="0.8"/>
<line x1="359.15" y1="487.01" x2="362.35" y2="487.01" stroke="#1e9898" stroke-width="0.8"/>
<circle cx="369.39" cy="494.3" r="1.15" fill="#6c34ad"/>
<circle cx="368.28" cy="491.2" r="1.15" fill="#6c34ad"/>
<circle cx="368.51" cy="488.87" r="1.15" fill="#6c34ad"/>
<circle cx="369.34" cy="486.55" r="1.15" fill="#6c34ad"/>
<circle cx="369.98" cy="485" r="1.15" fill="#6c34ad"/>
<circle cx="368.01" cy="483.45" r="1.15" fill="#6c34ad"/>
<circle cx="368.72" cy="481.9" r="1.15" fill="#6c34ad"/>
<circle cx="368.27" cy="478.8" r="1.15" fill="#6c34ad"/>
<circle cx="368.3" cy="474.15" r="1.15" fill="#6c34ad"/>
<line x1="368.25" y1="483.45" x2="368.25" y2="488.1" stroke="#6c34ad" stroke-width="0.8"/>
<line x1="366.65" y1="483.45" x2="369.85" y2="483.45" stroke="#6c34ad" stroke-width="0.8"/>
<line x1="366.65" y1="488.1" x2="369.85" y2="488.1" stroke="#6c34ad" stroke-width="0.8"/>
<line x1="229.7" y1="556.5" x2="373.3" y2="556.5" stroke="#1a1a1a" stroke-width="1"/>
<line x1="246.5" y1="556.3" x2="246.5" y2="558.9" stroke="#1a1a1a" stroke-width="1"/>
<line x1="283.5" y1="556.3" x2="283.5" y2="558.9" stroke="#1a1a1a" stroke-width="1"/>
<line x1="319.5" y1="556.3" x2="319.5" y2="558.9" stroke="#1a1a1a" stroke-width="1"/>
<line x1="356.5" y1="556.3" x2="356.5" y2="558.9" stroke="#1a1a1a" stroke-width="1"/>
<polyline points="235.5,532.3 235.5,519.5 242.5,519.5 242.5,531" fill="none" stroke="#1a1a1a" stroke-width="1" stroke-linejoin="round"/>
<text font-size="5.7" text-anchor="middle" fill="#111" stroke="#111" stroke-width="0.3" transform="translate(238.85 515.6)">0.0454</text>
<polyline points="250.5,526 250.5,510.5 258.5,510.5 258.5,529.8" fill="none" stroke="#1a1a1a" stroke-width="1" stroke-linejoin="round"/>
<text font-size="5.7" text-anchor="middle" fill="#111" stroke="#111" stroke-width="0.3" transform="translate(254.65 506.8)">0.6050</text>
<polyline points="271.5,517.4 271.5,504.5 279.5,504.5 279.5,515" fill="none" stroke="#1a1a1a" stroke-width="1" stroke-linejoin="round"/>
<text font-size="5.7" text-anchor="middle" fill="#111" stroke="#111" stroke-width="0.3" transform="translate(275.35 500.5)">0.0168</text>
<polyline points="287.5,502.4 287.5,492.5 294.5,492.5 294.5,504.3" fill="none" stroke="#1a1a1a" stroke-width="1" stroke-linejoin="round"/>
<text font-size="5.7" text-anchor="middle" fill="#111" stroke="#111" stroke-width="0.3" transform="translate(290.95 489)">0.7596</text>
<polyline points="308.5,490.5 308.5,479.5 316.5,479.5 316.5,490.5" fill="none" stroke="#1a1a1a" stroke-width="1" stroke-linejoin="round"/>
<text font-size="5.7" text-anchor="middle" fill="#111" stroke="#111" stroke-width="0.3" transform="translate(312 475.2)">0.0082</text>
<polyline points="324.5,473 324.5,461.5 331.5,461.5 331.5,484.4" fill="none" stroke="#1a1a1a" stroke-width="1" stroke-linejoin="round"/>
<text font-size="5.7" text-anchor="middle" fill="#111" stroke="#111" stroke-width="0.3" transform="translate(327.8 458)">0.4435</text>
<polyline points="345.5,479.2 345.5,474.5 352.5,474.5 352.5,479.2" fill="none" stroke="#1a1a1a" stroke-width="1" stroke-linejoin="round"/>
<text font-size="5.7" text-anchor="middle" fill="#111" stroke="#111" stroke-width="0.3" transform="translate(348.9 470.3)">0.0180</text>
<polyline points="360.5,462.6 360.5,446.5 368.5,446.5 368.5,472.2" fill="none" stroke="#1a1a1a" stroke-width="1" stroke-linejoin="round"/>
<text font-size="5.7" text-anchor="middle" fill="#111" stroke="#111" stroke-width="0.3" transform="translate(364.45 443)">0.4730</text>
<text font-size="9.4" text-anchor="end" fill="#111" stroke="#111" transform="translate(248.4 566.3) rotate(-45)">3</text>
<text font-size="9.4" text-anchor="end" fill="#111" stroke="#111" transform="translate(285.2 566.3) rotate(-45)">6</text>
<text font-size="9.4" text-anchor="end" fill="#111" stroke="#111" transform="translate(321.5 566.3) rotate(-45)">16</text>
<text font-size="9.4" text-anchor="end" fill="#111" stroke="#111" transform="translate(358.6 566.3) rotate(-45)">24</text>
<text font-size="9.4" text-anchor="middle" fill="#111" stroke="#111" transform="translate(301.2 585.6)">Time post-leptin (h)</text>
<text font-size="9.4" text-anchor="middle" fill="#111" stroke="#111" transform="translate(213.88 507.1) rotate(-90)">Food intake (g)</text>
<text font-size="13.5" text-anchor="start" fill="#111" stroke="#111" transform="translate(442.4 418.3)">k</text>
<circle cx="476" cy="419.5" r="0.9" fill="#1c1c1c"/>
<text font-size="9.4" text-anchor="start" fill="#111" stroke="#111" transform="translate(483 422.84)">shScr Veh</text>
<circle cx="476" cy="432.7" r="0.9" fill="#f8337b"/>
<text font-size="9.4" text-anchor="start" fill="#111" stroke="#111" transform="translate(483 436.04)">shScr Leptin</text>
<circle cx="559.3" cy="419.5" r="0.9" fill="#1e9898"/>
<text font-size="9.4" text-anchor="start" fill="#111" stroke="#111" transform="translate(567 422.84)">shFak/Pyk2 Veh</text>
<circle cx="559.3" cy="432.7" r="0.9" fill="#6c34ad"/>
<text font-size="9.4" text-anchor="start" fill="#111" stroke="#111" transform="translate(567 436.04)">shFak/Pyk2 Leptin</text>
<line x1="482.5" y1="460.3" x2="482.5" y2="552.7" stroke="#1a1a1a" stroke-width="1"/>
<line x1="479.7" y1="460.5" x2="482.3" y2="460.5" stroke="#1a1a1a" stroke-width="1"/>
<text font-size="9.4" text-anchor="end" fill="#111" stroke="#111" transform="translate(478.5 463.64)">8</text>
<line x1="479.7" y1="475.5" x2="482.3" y2="475.5" stroke="#1a1a1a" stroke-width="1"/>
<text font-size="9.4" text-anchor="end" fill="#111" stroke="#111" transform="translate(478.5 479.04)">6</text>
<line x1="479.7" y1="491.5" x2="482.3" y2="491.5" stroke="#1a1a1a" stroke-width="1"/>
<text font-size="9.4" text-anchor="end" fill="#111" stroke="#111" transform="translate(478.5 494.44)">4</text>
<line x1="479.7" y1="506.5" x2="482.3" y2="506.5" stroke="#1a1a1a" stroke-width="1"/>
<text font-size="9.4" text-anchor="end" fill="#111" stroke="#111" transform="translate(478.5 509.84)">2</text>
<line x1="479.7" y1="521.5" x2="482.3" y2="521.5" stroke="#1a1a1a" stroke-width="1"/>
<text font-size="9.4" text-anchor="end" fill="#111" stroke="#111" transform="translate(478.5 525.24)">0</text>
<line x1="479.7" y1="537.5" x2="482.3" y2="537.5" stroke="#1a1a1a" stroke-width="1"/>
<text font-size="9.4" text-anchor="end" fill="#111" stroke="#111" transform="translate(478.5 540.64)">-2</text>
<line x1="479.7" y1="552.5" x2="482.3" y2="552.5" stroke="#1a1a1a" stroke-width="1"/>
<text font-size="9.4" text-anchor="end" fill="#111" stroke="#111" transform="translate(478.5 556.04)">-4</text>
<rect x="488.45" y="503.73" width="10.1" height="18.17" fill="none" stroke="#1c1c1c" stroke-width="0.9"/>
<rect x="503.75" y="511.5" width="9.7" height="10.39" fill="none" stroke="#f8337b" stroke-width="0.9"/>
<rect x="519.65" y="504.34" width="9.6" height="17.56" fill="none" stroke="#1e9898" stroke-width="0.9"/>
<rect x="535.05" y="506.88" width="9.7" height="15.01" fill="none" stroke="#6c34ad" stroke-width="0.9"/>
<rect x="560.85" y="514.66" width="9.7" height="7.24" fill="none" stroke="#1c1c1c" stroke-width="0.9"/>
<rect x="576.75" y="521.9" width="9.7" height="0.77" fill="none" stroke="#f8337b" stroke-width="0.9"/>
<rect x="592.25" y="515.74" width="9.7" height="6.16" fill="none" stroke="#1e9898" stroke-width="0.9"/>
<rect x="607.45" y="516.12" width="10.1" height="5.77" fill="none" stroke="#6c34ad" stroke-width="0.9"/>
<circle cx="489.77" cy="524.21" r="0.8" fill="#1c1c1c"/>
<circle cx="492.86" cy="486.48" r="0.8" fill="#1c1c1c"/>
<circle cx="495.16" cy="506.64" r="0.8" fill="#1c1c1c"/>
<circle cx="496.46" cy="511.48" r="0.8" fill="#1c1c1c"/>
<circle cx="490.74" cy="512.15" r="0.8" fill="#1c1c1c"/>
<circle cx="492.28" cy="505.51" r="0.8" fill="#1c1c1c"/>
<circle cx="494.58" cy="492.81" r="0.8" fill="#1c1c1c"/>
<circle cx="497.39" cy="507.93" r="0.8" fill="#1c1c1c"/>
<circle cx="490.6" cy="490.87" r="0.8" fill="#1c1c1c"/>
<circle cx="491.99" cy="516.34" r="0.8" fill="#1c1c1c"/>
<circle cx="494.52" cy="504.31" r="0.8" fill="#1c1c1c"/>
<circle cx="496.82" cy="494.08" r="0.8" fill="#1c1c1c"/>
<circle cx="490.01" cy="490.19" r="0.8" fill="#1c1c1c"/>
<circle cx="492.03" cy="508.77" r="0.8" fill="#1c1c1c"/>
<circle cx="494.38" cy="501.23" r="0.8" fill="#1c1c1c"/>
<circle cx="497.07" cy="500.81" r="0.8" fill="#1c1c1c"/>
<circle cx="489.62" cy="506.47" r="0.8" fill="#1c1c1c"/>
<circle cx="492.46" cy="502.69" r="0.8" fill="#1c1c1c"/>
<circle cx="494.53" cy="503.56" r="0.8" fill="#1c1c1c"/>
<circle cx="496.22" cy="500.79" r="0.8" fill="#1c1c1c"/>
<circle cx="490" cy="510.13" r="0.8" fill="#1c1c1c"/>
<circle cx="492.55" cy="515.28" r="0.8" fill="#1c1c1c"/>
<circle cx="494.61" cy="500.24" r="0.8" fill="#1c1c1c"/>
<circle cx="496.28" cy="506.36" r="0.8" fill="#1c1c1c"/>
<circle cx="490.78" cy="506.07" r="0.8" fill="#1c1c1c"/>
<circle cx="492.75" cy="514.57" r="0.8" fill="#1c1c1c"/>
<line x1="493.5" y1="501.57" x2="493.5" y2="505.88" stroke="#1c1c1c" stroke-width="0.7"/>
<line x1="492" y1="501.57" x2="495" y2="501.57" stroke="#1c1c1c" stroke-width="0.7"/>
<line x1="492" y1="505.88" x2="495" y2="505.88" stroke="#1c1c1c" stroke-width="0.7"/>
<circle cx="505.73" cy="531.14" r="0.8" fill="#f8337b"/>
<circle cx="506.98" cy="489.56" r="0.8" fill="#f8337b"/>
<circle cx="510.14" cy="507.65" r="0.8" fill="#f8337b"/>
<circle cx="511.84" cy="512.2" r="0.8" fill="#f8337b"/>
<circle cx="505.11" cy="511.74" r="0.8" fill="#f8337b"/>
<circle cx="507.56" cy="509.15" r="0.8" fill="#f8337b"/>
<circle cx="510.21" cy="510.31" r="0.8" fill="#f8337b"/>
<circle cx="511.62" cy="518" r="0.8" fill="#f8337b"/>
<circle cx="504.86" cy="505.52" r="0.8" fill="#f8337b"/>
<circle cx="507.53" cy="505.17" r="0.8" fill="#f8337b"/>
<circle cx="509.39" cy="498.45" r="0.8" fill="#f8337b"/>
<circle cx="511.43" cy="519.63" r="0.8" fill="#f8337b"/>
<circle cx="504.89" cy="511.76" r="0.8" fill="#f8337b"/>
<circle cx="506.96" cy="506.78" r="0.8" fill="#f8337b"/>
<circle cx="509.34" cy="502.06" r="0.8" fill="#f8337b"/>
<circle cx="511.67" cy="516.76" r="0.8" fill="#f8337b"/>
<circle cx="505.07" cy="512.61" r="0.8" fill="#f8337b"/>
<circle cx="507.81" cy="514.93" r="0.8" fill="#f8337b"/>
<circle cx="509.45" cy="499.63" r="0.8" fill="#f8337b"/>
<circle cx="511.9" cy="507.02" r="0.8" fill="#f8337b"/>
<circle cx="504.91" cy="514.38" r="0.8" fill="#f8337b"/>
<circle cx="507.32" cy="510.05" r="0.8" fill="#f8337b"/>
<circle cx="509.12" cy="500.58" r="0.8" fill="#f8337b"/>
<circle cx="511.6" cy="515.96" r="0.8" fill="#f8337b"/>
<circle cx="504.72" cy="510.4" r="0.8" fill="#f8337b"/>
<circle cx="507.78" cy="514.8" r="0.8" fill="#f8337b"/>
<line x1="508.6" y1="509.35" x2="508.6" y2="513.66" stroke="#f8337b" stroke-width="0.7"/>
<line x1="507.1" y1="509.35" x2="510.1" y2="509.35" stroke="#f8337b" stroke-width="0.7"/>
<line x1="507.1" y1="513.66" x2="510.1" y2="513.66" stroke="#f8337b" stroke-width="0.7"/>
<circle cx="520.75" cy="537.3" r="0.8" fill="#1e9898"/>
<circle cx="522.85" cy="476.47" r="0.8" fill="#1e9898"/>
<circle cx="525.96" cy="511.83" r="0.8" fill="#1e9898"/>
<circle cx="528.19" cy="506.83" r="0.8" fill="#1e9898"/>
<circle cx="521.35" cy="532.4" r="0.8" fill="#1e9898"/>
<circle cx="523.09" cy="499.86" r="0.8" fill="#1e9898"/>
<circle cx="525.24" cy="486.68" r="0.8" fill="#1e9898"/>
<circle cx="527.5" cy="490.42" r="0.8" fill="#1e9898"/>
<circle cx="521.1" cy="517.29" r="0.8" fill="#1e9898"/>
<circle cx="522.94" cy="498.47" r="0.8" fill="#1e9898"/>
<circle cx="525.48" cy="498.18" r="0.8" fill="#1e9898"/>
<circle cx="527.47" cy="514.82" r="0.8" fill="#1e9898"/>
<circle cx="521.7" cy="522.89" r="0.8" fill="#1e9898"/>
<circle cx="523.92" cy="505.12" r="0.8" fill="#1e9898"/>
<circle cx="525.61" cy="493.27" r="0.8" fill="#1e9898"/>
<circle cx="527.44" cy="505.57" r="0.8" fill="#1e9898"/>
<circle cx="521.71" cy="494.92" r="0.8" fill="#1e9898"/>
<circle cx="523.12" cy="520.91" r="0.8" fill="#1e9898"/>
<circle cx="525.38" cy="512.48" r="0.8" fill="#1e9898"/>
<circle cx="527.15" cy="513.69" r="0.8" fill="#1e9898"/>
<circle cx="521.01" cy="506.68" r="0.8" fill="#1e9898"/>
<circle cx="523.32" cy="501.02" r="0.8" fill="#1e9898"/>
<circle cx="525.55" cy="501.15" r="0.8" fill="#1e9898"/>
<circle cx="527.39" cy="500.95" r="0.8" fill="#1e9898"/>
<circle cx="521.16" cy="504.88" r="0.8" fill="#1e9898"/>
<circle cx="522.76" cy="513.68" r="0.8" fill="#1e9898"/>
<line x1="524.45" y1="502.19" x2="524.45" y2="506.5" stroke="#1e9898" stroke-width="0.7"/>
<line x1="522.95" y1="502.19" x2="525.95" y2="502.19" stroke="#1e9898" stroke-width="0.7"/>
<line x1="522.95" y1="506.5" x2="525.95" y2="506.5" stroke="#1e9898" stroke-width="0.7"/>
<circle cx="536.97" cy="538.84" r="0.8" fill="#6c34ad"/>
<circle cx="538.37" cy="491.1" r="0.8" fill="#6c34ad"/>
<circle cx="541.03" cy="507.25" r="0.8" fill="#6c34ad"/>
<circle cx="543.21" cy="502.76" r="0.8" fill="#6c34ad"/>
<circle cx="537" cy="509.13" r="0.8" fill="#6c34ad"/>
<circle cx="539.17" cy="505.24" r="0.8" fill="#6c34ad"/>
<circle cx="541.39" cy="498.83" r="0.8" fill="#6c34ad"/>
<circle cx="543.3" cy="505.74" r="0.8" fill="#6c34ad"/>
<circle cx="537.07" cy="505.52" r="0.8" fill="#6c34ad"/>
<circle cx="539.02" cy="494.29" r="0.8" fill="#6c34ad"/>
<circle cx="541.23" cy="522.53" r="0.8" fill="#6c34ad"/>
<circle cx="542.88" cy="509.79" r="0.8" fill="#6c34ad"/>
<circle cx="536.04" cy="515.2" r="0.8" fill="#6c34ad"/>
<circle cx="538.36" cy="519.55" r="0.8" fill="#6c34ad"/>
<circle cx="540.83" cy="500.01" r="0.8" fill="#6c34ad"/>
<circle cx="542.73" cy="513.42" r="0.8" fill="#6c34ad"/>
<circle cx="537" cy="519.6" r="0.8" fill="#6c34ad"/>
<circle cx="538.87" cy="491.1" r="0.8" fill="#6c34ad"/>
<circle cx="541.15" cy="497.84" r="0.8" fill="#6c34ad"/>
<circle cx="543.35" cy="494.52" r="0.8" fill="#6c34ad"/>
<circle cx="536.82" cy="508.66" r="0.8" fill="#6c34ad"/>
<circle cx="538.79" cy="509.12" r="0.8" fill="#6c34ad"/>
<circle cx="540.4" cy="496.6" r="0.8" fill="#6c34ad"/>
<circle cx="543.56" cy="524.2" r="0.8" fill="#6c34ad"/>
<circle cx="536.9" cy="517.71" r="0.8" fill="#6c34ad"/>
<circle cx="538.8" cy="518.03" r="0.8" fill="#6c34ad"/>
<line x1="539.9" y1="504.73" x2="539.9" y2="509.04" stroke="#6c34ad" stroke-width="0.7"/>
<line x1="538.4" y1="504.73" x2="541.4" y2="504.73" stroke="#6c34ad" stroke-width="0.7"/>
<line x1="538.4" y1="509.04" x2="541.4" y2="509.04" stroke="#6c34ad" stroke-width="0.7"/>
<circle cx="561.81" cy="526.52" r="0.8" fill="#1c1c1c"/>
<circle cx="564.07" cy="500.34" r="0.8" fill="#1c1c1c"/>
<circle cx="566.52" cy="522.16" r="0.8" fill="#1c1c1c"/>
<circle cx="569.21" cy="516.35" r="0.8" fill="#1c1c1c"/>
<circle cx="562.63" cy="506.83" r="0.8" fill="#1c1c1c"/>
<circle cx="564.81" cy="511.21" r="0.8" fill="#1c1c1c"/>
<circle cx="566.55" cy="514.69" r="0.8" fill="#1c1c1c"/>
<circle cx="569.02" cy="512.6" r="0.8" fill="#1c1c1c"/>
<circle cx="562.36" cy="515.49" r="0.8" fill="#1c1c1c"/>
<circle cx="564.56" cy="506.24" r="0.8" fill="#1c1c1c"/>
<circle cx="566.34" cy="512.28" r="0.8" fill="#1c1c1c"/>
<circle cx="569.47" cy="506.41" r="0.8" fill="#1c1c1c"/>
<circle cx="562.04" cy="508.62" r="0.8" fill="#1c1c1c"/>
<circle cx="565.17" cy="515.59" r="0.8" fill="#1c1c1c"/>
<circle cx="567.32" cy="519.09" r="0.8" fill="#1c1c1c"/>
<circle cx="568.42" cy="510.64" r="0.8" fill="#1c1c1c"/>
<circle cx="562.35" cy="518.28" r="0.8" fill="#1c1c1c"/>
<circle cx="564.98" cy="522.83" r="0.8" fill="#1c1c1c"/>
<circle cx="567.36" cy="520.24" r="0.8" fill="#1c1c1c"/>
<circle cx="568.94" cy="519.7" r="0.8" fill="#1c1c1c"/>
<circle cx="562.12" cy="512.05" r="0.8" fill="#1c1c1c"/>
<circle cx="564.25" cy="513.28" r="0.8" fill="#1c1c1c"/>
<circle cx="567.33" cy="514.88" r="0.8" fill="#1c1c1c"/>
<circle cx="568.65" cy="506.03" r="0.8" fill="#1c1c1c"/>
<circle cx="562.5" cy="516.94" r="0.8" fill="#1c1c1c"/>
<circle cx="564.17" cy="508.27" r="0.8" fill="#1c1c1c"/>
<line x1="565.7" y1="512.51" x2="565.7" y2="516.82" stroke="#1c1c1c" stroke-width="0.7"/>
<line x1="564.2" y1="512.51" x2="567.2" y2="512.51" stroke="#1c1c1c" stroke-width="0.7"/>
<line x1="564.2" y1="516.82" x2="567.2" y2="516.82" stroke="#1c1c1c" stroke-width="0.7"/>
<circle cx="578.56" cy="545" r="0.8" fill="#f8337b"/>
<circle cx="580.98" cy="494.95" r="0.8" fill="#f8337b"/>
<circle cx="582.45" cy="545" r="0.8" fill="#f8337b"/>
<circle cx="584.75" cy="526.4" r="0.8" fill="#f8337b"/>
<circle cx="578.17" cy="510.2" r="0.8" fill="#f8337b"/>
<circle cx="581.1" cy="508.95" r="0.8" fill="#f8337b"/>
<circle cx="582.81" cy="543.54" r="0.8" fill="#f8337b"/>
<circle cx="584.73" cy="523.82" r="0.8" fill="#f8337b"/>
<circle cx="578.21" cy="524.77" r="0.8" fill="#f8337b"/>
<circle cx="580.23" cy="529.62" r="0.8" fill="#f8337b"/>
<circle cx="582.16" cy="513.42" r="0.8" fill="#f8337b"/>
<circle cx="584.42" cy="529.59" r="0.8" fill="#f8337b"/>
<circle cx="578.7" cy="521.83" r="0.8" fill="#f8337b"/>
<circle cx="580.24" cy="522.54" r="0.8" fill="#f8337b"/>
<circle cx="583.22" cy="533.61" r="0.8" fill="#f8337b"/>
<circle cx="584.6" cy="522.1" r="0.8" fill="#f8337b"/>
<circle cx="578.02" cy="524.44" r="0.8" fill="#f8337b"/>
<circle cx="580.51" cy="517.45" r="0.8" fill="#f8337b"/>
<circle cx="582.33" cy="527.53" r="0.8" fill="#f8337b"/>
<circle cx="584.75" cy="515.42" r="0.8" fill="#f8337b"/>
<circle cx="578.85" cy="522.35" r="0.8" fill="#f8337b"/>
<circle cx="580.96" cy="523.17" r="0.8" fill="#f8337b"/>
<circle cx="583.07" cy="522.58" r="0.8" fill="#f8337b"/>
<circle cx="585.06" cy="541.8" r="0.8" fill="#f8337b"/>
<circle cx="578.8" cy="506.01" r="0.8" fill="#f8337b"/>
<circle cx="581.03" cy="507.01" r="0.8" fill="#f8337b"/>
<line x1="581.6" y1="520.51" x2="581.6" y2="524.83" stroke="#f8337b" stroke-width="0.7"/>
<line x1="580.1" y1="520.51" x2="583.1" y2="520.51" stroke="#f8337b" stroke-width="0.7"/>
<line x1="580.1" y1="524.83" x2="583.1" y2="524.83" stroke="#f8337b" stroke-width="0.7"/>
<circle cx="594.29" cy="543.46" r="0.8" fill="#1e9898"/>
<circle cx="596" cy="477.24" r="0.8" fill="#1e9898"/>
<circle cx="597.86" cy="535.86" r="0.8" fill="#1e9898"/>
<circle cx="600.89" cy="522.17" r="0.8" fill="#1e9898"/>
<circle cx="594.4" cy="495.27" r="0.8" fill="#1e9898"/>
<circle cx="595.94" cy="509.16" r="0.8" fill="#1e9898"/>
<circle cx="597.77" cy="536.83" r="0.8" fill="#1e9898"/>
<circle cx="600.03" cy="509.01" r="0.8" fill="#1e9898"/>
<circle cx="593.31" cy="522.43" r="0.8" fill="#1e9898"/>
<circle cx="595.81" cy="524.31" r="0.8" fill="#1e9898"/>
<circle cx="597.71" cy="486.88" r="0.8" fill="#1e9898"/>
<circle cx="600.09" cy="506.57" r="0.8" fill="#1e9898"/>
<circle cx="593.51" cy="505.31" r="0.8" fill="#1e9898"/>
<circle cx="596.08" cy="505" r="0.8" fill="#1e9898"/>
<circle cx="598.66" cy="521.92" r="0.8" fill="#1e9898"/>
<circle cx="600.7" cy="506.48" r="0.8" fill="#1e9898"/>
<circle cx="593.7" cy="518.23" r="0.8" fill="#1e9898"/>
<circle cx="595.9" cy="543.46" r="0.8" fill="#1e9898"/>
<circle cx="598.23" cy="516.98" r="0.8" fill="#1e9898"/>
<circle cx="600.25" cy="496.43" r="0.8" fill="#1e9898"/>
<circle cx="593.61" cy="521.05" r="0.8" fill="#1e9898"/>
<circle cx="595.47" cy="499.69" r="0.8" fill="#1e9898"/>
<circle cx="597.93" cy="522.05" r="0.8" fill="#1e9898"/>
<circle cx="600.96" cy="510.8" r="0.8" fill="#1e9898"/>
<circle cx="593.35" cy="510.98" r="0.8" fill="#1e9898"/>
<circle cx="596" cy="508.06" r="0.8" fill="#1e9898"/>
<line x1="597.1" y1="513.58" x2="597.1" y2="517.9" stroke="#1e9898" stroke-width="0.7"/>
<line x1="595.6" y1="513.58" x2="598.6" y2="513.58" stroke="#1e9898" stroke-width="0.7"/>
<line x1="595.6" y1="517.9" x2="598.6" y2="517.9" stroke="#1e9898" stroke-width="0.7"/>
<circle cx="608.79" cy="533.45" r="0.8" fill="#6c34ad"/>
<circle cx="611.43" cy="494.18" r="0.8" fill="#6c34ad"/>
<circle cx="613.82" cy="526.87" r="0.8" fill="#6c34ad"/>
<circle cx="616.33" cy="527.51" r="0.8" fill="#6c34ad"/>
<circle cx="609.47" cy="514.8" r="0.8" fill="#6c34ad"/>
<circle cx="611.58" cy="510.02" r="0.8" fill="#6c34ad"/>
<circle cx="613.92" cy="516.05" r="0.8" fill="#6c34ad"/>
<circle cx="615.75" cy="508.19" r="0.8" fill="#6c34ad"/>
<circle cx="609.26" cy="533.45" r="0.8" fill="#6c34ad"/>
<circle cx="610.85" cy="509.62" r="0.8" fill="#6c34ad"/>
<circle cx="613.94" cy="506.86" r="0.8" fill="#6c34ad"/>
<circle cx="615.48" cy="529.11" r="0.8" fill="#6c34ad"/>
<circle cx="609.7" cy="514.13" r="0.8" fill="#6c34ad"/>
<circle cx="611.57" cy="515.85" r="0.8" fill="#6c34ad"/>
<circle cx="613.36" cy="520.33" r="0.8" fill="#6c34ad"/>
<circle cx="615.35" cy="532.29" r="0.8" fill="#6c34ad"/>
<circle cx="608.9" cy="526.43" r="0.8" fill="#6c34ad"/>
<circle cx="611.56" cy="514.38" r="0.8" fill="#6c34ad"/>
<circle cx="613.84" cy="508.3" r="0.8" fill="#6c34ad"/>
<circle cx="615.33" cy="516.12" r="0.8" fill="#6c34ad"/>
<circle cx="608.68" cy="502.97" r="0.8" fill="#6c34ad"/>
<circle cx="611.43" cy="522.64" r="0.8" fill="#6c34ad"/>
<circle cx="613.7" cy="503.19" r="0.8" fill="#6c34ad"/>
<circle cx="615.67" cy="532.7" r="0.8" fill="#6c34ad"/>
<circle cx="608.87" cy="516.09" r="0.8" fill="#6c34ad"/>
<circle cx="611.52" cy="512.35" r="0.8" fill="#6c34ad"/>
<line x1="612.5" y1="513.97" x2="612.5" y2="518.28" stroke="#6c34ad" stroke-width="0.7"/>
<line x1="611" y1="513.97" x2="614" y2="513.97" stroke="#6c34ad" stroke-width="0.7"/>
<line x1="611" y1="518.28" x2="614" y2="518.28" stroke="#6c34ad" stroke-width="0.7"/>
<line x1="482.3" y1="521.5" x2="622.5" y2="521.5" stroke="#1a1a1a" stroke-width="1"/>
<line x1="482.3" y1="552.5" x2="622.5" y2="552.5" stroke="#1a1a1a" stroke-width="1"/>
<line x1="516.5" y1="552.7" x2="516.5" y2="555.3" stroke="#1a1a1a" stroke-width="1"/>
<line x1="589.5" y1="552.7" x2="589.5" y2="555.3" stroke="#1a1a1a" stroke-width="1"/>
<polyline points="493.5,482.5 493.5,468.5 508.5,468.5 508.5,484.6" fill="none" stroke="#1a1a1a" stroke-width="1" stroke-linejoin="round"/>
<text font-size="5.7" text-anchor="middle" fill="#111" stroke="#111" stroke-width="0.3" transform="translate(501.2 464.3)">0.0182</text>
<line x1="524" y1="465.5" x2="540.8" y2="465.5" stroke="#1a1a1a" stroke-width="1"/>
<line x1="524.5" y1="463.6" x2="524.5" y2="467.6" stroke="#1a1a1a" stroke-width="1"/>
<line x1="540.5" y1="463.6" x2="540.5" y2="467.6" stroke="#1a1a1a" stroke-width="1"/>
<text font-size="5.7" text-anchor="middle" fill="#111" stroke="#111" stroke-width="0.3" transform="translate(532.4 461.4)">ns</text>
<polyline points="565.5,477.9 565.5,472.5 575.5,472.5 575.5,478.7" fill="none" stroke="#1a1a1a" stroke-width="1" stroke-linejoin="round"/>
<text font-size="5.7" text-anchor="middle" fill="#111" stroke="#111" stroke-width="0.3" transform="translate(570.3 468.6)">P=0.053</text>
<line x1="596.4" y1="464.5" x2="611.2" y2="464.5" stroke="#1a1a1a" stroke-width="1"/>
<line x1="596.5" y1="462.5" x2="596.5" y2="466.5" stroke="#1a1a1a" stroke-width="1"/>
<line x1="611.5" y1="462.5" x2="611.5" y2="466.5" stroke="#1a1a1a" stroke-width="1"/>
<text font-size="5.7" text-anchor="middle" fill="#111" stroke="#111" stroke-width="0.3" transform="translate(603.8 460.9)">ns</text>
<text font-size="9.4" text-anchor="end" fill="#111" stroke="#111" transform="translate(518.5 562.7) rotate(-45)">16</text>
<text font-size="9.4" text-anchor="end" fill="#111" stroke="#111" transform="translate(591.5 562.7) rotate(-45)">24</text>
<text font-size="9.4" text-anchor="middle" fill="#111" stroke="#111" transform="translate(553.3 582.2)">Time post-leptin (h)</text>
<text font-size="9.4" text-anchor="middle" fill="#111" stroke="#111" transform="translate(466.48 502) rotate(-90)">Weight change (%)</text>
<text font-size="13.5" text-anchor="start" fill="#111" stroke="#111" transform="translate(0 649.3)">l</text>
<rect x="56.75" y="701.4" width="8.6" height="9.09" fill="none" stroke="#1c1c1c" stroke-width="0.9"/>
<rect x="71.05" y="701.4" width="8.4" height="38.1" fill="none" stroke="#1c1c1c" stroke-width="0.9"/>
<rect x="93.55" y="701.4" width="8.6" height="7.69" fill="none" stroke="#f2407f" stroke-width="0.9"/>
<rect x="107.85" y="701.4" width="8.6" height="10.49" fill="none" stroke="#f2407f" stroke-width="0.9"/>
<circle cx="57.62" cy="702.8" r="1.45" fill="#1c1c1c"/>
<circle cx="59.66" cy="704.2" r="1.45" fill="#1c1c1c"/>
<circle cx="60.77" cy="704.89" r="1.45" fill="#1c1c1c"/>
<circle cx="64.26" cy="705.59" r="1.45" fill="#1c1c1c"/>
<circle cx="62.06" cy="706.29" r="1.45" fill="#1c1c1c"/>
<circle cx="63.74" cy="706.99" r="1.45" fill="#1c1c1c"/>
<circle cx="60.88" cy="707.69" r="1.45" fill="#1c1c1c"/>
<circle cx="59.19" cy="708.39" r="1.45" fill="#1c1c1c"/>
<circle cx="59.28" cy="708.39" r="1.45" fill="#1c1c1c"/>
<circle cx="64.27" cy="709.09" r="1.45" fill="#1c1c1c"/>
<circle cx="62.48" cy="709.79" r="1.45" fill="#1c1c1c"/>
<circle cx="59.7" cy="709.79" r="1.45" fill="#1c1c1c"/>
<circle cx="57.7" cy="710.49" r="1.45" fill="#1c1c1c"/>
<circle cx="61.04" cy="711.19" r="1.45" fill="#1c1c1c"/>
<circle cx="62.27" cy="711.88" r="1.45" fill="#1c1c1c"/>
<circle cx="60.49" cy="712.58" r="1.45" fill="#1c1c1c"/>
<circle cx="59.35" cy="713.28" r="1.45" fill="#1c1c1c"/>
<circle cx="62.22" cy="713.98" r="1.45" fill="#1c1c1c"/>
<circle cx="64.03" cy="715.38" r="1.45" fill="#1c1c1c"/>
<circle cx="59.14" cy="716.08" r="1.45" fill="#1c1c1c"/>
<circle cx="57.79" cy="717.48" r="1.45" fill="#1c1c1c"/>
<circle cx="59.92" cy="703.5" r="1.45" fill="#1c1c1c"/>
<circle cx="60.49" cy="707.69" r="1.45" fill="#1c1c1c"/>
<circle cx="62.33" cy="710.49" r="1.45" fill="#1c1c1c"/>
<circle cx="58.94" cy="709.09" r="1.45" fill="#1c1c1c"/>
<circle cx="77.33" cy="720.27" r="1.45" fill="#1c1c1c"/>
<circle cx="76.92" cy="726.56" r="1.45" fill="#1c1c1c"/>
<circle cx="75.28" cy="728.66" r="1.45" fill="#1c1c1c"/>
<circle cx="73.19" cy="730.06" r="1.45" fill="#1c1c1c"/>
<circle cx="78.54" cy="731.46" r="1.45" fill="#1c1c1c"/>
<circle cx="73.93" cy="732.86" r="1.45" fill="#1c1c1c"/>
<circle cx="77.49" cy="734.95" r="1.45" fill="#1c1c1c"/>
<circle cx="73.37" cy="736.35" r="1.45" fill="#1c1c1c"/>
<circle cx="73.3" cy="737.75" r="1.45" fill="#1c1c1c"/>
<circle cx="77.07" cy="739.85" r="1.45" fill="#1c1c1c"/>
<circle cx="73.81" cy="741.94" r="1.45" fill="#1c1c1c"/>
<circle cx="78.41" cy="742.64" r="1.45" fill="#1c1c1c"/>
<circle cx="75.22" cy="743.34" r="1.45" fill="#1c1c1c"/>
<circle cx="73.06" cy="744.04" r="1.45" fill="#1c1c1c"/>
<circle cx="73.31" cy="751.73" r="1.45" fill="#1c1c1c"/>
<circle cx="74.67" cy="753.13" r="1.45" fill="#1c1c1c"/>
<circle cx="76.41" cy="754.52" r="1.45" fill="#1c1c1c"/>
<circle cx="78.39" cy="755.92" r="1.45" fill="#1c1c1c"/>
<circle cx="72.77" cy="758.72" r="1.45" fill="#1c1c1c"/>
<circle cx="74.5" cy="732.16" r="1.45" fill="#1c1c1c"/>
<circle cx="95.84" cy="702.1" r="1.45" fill="#f2407f"/>
<circle cx="101.17" cy="702.8" r="1.45" fill="#f2407f"/>
<circle cx="95.34" cy="703.5" r="1.45" fill="#f2407f"/>
<circle cx="94.71" cy="704.2" r="1.45" fill="#f2407f"/>
<circle cx="94.77" cy="704.89" r="1.45" fill="#f2407f"/>
<circle cx="97.1" cy="705.59" r="1.45" fill="#f2407f"/>
<circle cx="100.64" cy="706.29" r="1.45" fill="#f2407f"/>
<circle cx="100.54" cy="706.99" r="1.45" fill="#f2407f"/>
<circle cx="99.48" cy="706.99" r="1.45" fill="#f2407f"/>
<circle cx="101.33" cy="707.69" r="1.45" fill="#f2407f"/>
<circle cx="100.87" cy="708.39" r="1.45" fill="#f2407f"/>
<circle cx="96.65" cy="709.09" r="1.45" fill="#f2407f"/>
<circle cx="95.65" cy="709.79" r="1.45" fill="#f2407f"/>
<circle cx="100.9" cy="710.49" r="1.45" fill="#f2407f"/>
<circle cx="99.57" cy="711.19" r="1.45" fill="#f2407f"/>
<circle cx="94.57" cy="712.58" r="1.45" fill="#f2407f"/>
<circle cx="99" cy="713.98" r="1.45" fill="#f2407f"/>
<circle cx="97" cy="720.97" r="1.45" fill="#f2407f"/>
<circle cx="96.97" cy="724.47" r="1.45" fill="#f2407f"/>
<circle cx="96.67" cy="704.89" r="1.45" fill="#f2407f"/>
<circle cx="95.53" cy="705.59" r="1.45" fill="#f2407f"/>
<circle cx="94.37" cy="708.39" r="1.45" fill="#f2407f"/>
<circle cx="110.61" cy="701.4" r="1.45" fill="#f2407f"/>
<circle cx="111.11" cy="702.8" r="1.45" fill="#f2407f"/>
<circle cx="115.34" cy="704.2" r="1.45" fill="#f2407f"/>
<circle cx="109.52" cy="704.89" r="1.45" fill="#f2407f"/>
<circle cx="115.4" cy="706.29" r="1.45" fill="#f2407f"/>
<circle cx="110.1" cy="706.99" r="1.45" fill="#f2407f"/>
<circle cx="111.15" cy="708.39" r="1.45" fill="#f2407f"/>
<circle cx="114.4" cy="709.09" r="1.45" fill="#f2407f"/>
<circle cx="114.4" cy="709.79" r="1.45" fill="#f2407f"/>
<circle cx="111.68" cy="710.49" r="1.45" fill="#f2407f"/>
<circle cx="108.99" cy="711.19" r="1.45" fill="#f2407f"/>
<circle cx="111.96" cy="712.58" r="1.45" fill="#f2407f"/>
<circle cx="111.26" cy="713.98" r="1.45" fill="#f2407f"/>
<circle cx="115.09" cy="715.38" r="1.45" fill="#f2407f"/>
<circle cx="110" cy="716.78" r="1.45" fill="#f2407f"/>
<circle cx="111.2" cy="717.48" r="1.45" fill="#f2407f"/>
<circle cx="114.93" cy="719.57" r="1.45" fill="#f2407f"/>
<circle cx="108.86" cy="722.37" r="1.45" fill="#f2407f"/>
<circle cx="111.53" cy="749.63" r="1.45" fill="#f2407f"/>
<circle cx="114.33" cy="703.5" r="1.45" fill="#f2407f"/>
<circle cx="114.02" cy="707.69" r="1.45" fill="#f2407f"/>
<line x1="51.6" y1="701.4" x2="121.1" y2="701.4" stroke="#6a6a6a" stroke-width="1.4"/>
<line x1="51.5" y1="701.4" x2="51.5" y2="771.3" stroke="#1a1a1a" stroke-width="1"/>
<line x1="49" y1="701.5" x2="51.6" y2="701.5" stroke="#1a1a1a" stroke-width="1"/>
<text font-size="9.4" text-anchor="end" fill="#111" stroke="#111" transform="translate(47.8 704.74)">0</text>
<line x1="49" y1="715.5" x2="51.6" y2="715.5" stroke="#1a1a1a" stroke-width="1"/>
<text font-size="9.4" text-anchor="end" fill="#111" stroke="#111" transform="translate(47.8 718.72)">-2</text>
<line x1="49" y1="729.5" x2="51.6" y2="729.5" stroke="#1a1a1a" stroke-width="1"/>
<text font-size="9.4" text-anchor="end" fill="#111" stroke="#111" transform="translate(47.8 732.7)">-4</text>
<line x1="49" y1="743.5" x2="51.6" y2="743.5" stroke="#1a1a1a" stroke-width="1"/>
<text font-size="9.4" text-anchor="end" fill="#111" stroke="#111" transform="translate(47.8 746.68)">-6</text>
<line x1="49" y1="757.5" x2="51.6" y2="757.5" stroke="#1a1a1a" stroke-width="1"/>
<text font-size="9.4" text-anchor="end" fill="#111" stroke="#111" transform="translate(47.8 760.66)">-8</text>
<line x1="49" y1="771.5" x2="51.6" y2="771.5" stroke="#1a1a1a" stroke-width="1"/>
<text font-size="9.4" text-anchor="end" fill="#111" stroke="#111" transform="translate(47.8 774.64)">-10</text>
<line x1="51.6" y1="771.5" x2="121.1" y2="771.5" stroke="#1a1a1a" stroke-width="1"/>
<line x1="61.5" y1="771.3" x2="61.5" y2="773.9" stroke="#1a1a1a" stroke-width="1"/>
<line x1="74.5" y1="771.3" x2="74.5" y2="773.9" stroke="#1a1a1a" stroke-width="1"/>
<line x1="97.5" y1="771.3" x2="97.5" y2="773.9" stroke="#1a1a1a" stroke-width="1"/>
<line x1="111.5" y1="771.3" x2="111.5" y2="773.9" stroke="#1a1a1a" stroke-width="1"/>
<polyline points="61.5,697.6 61.5,693.5 74.5,693.5 74.5,697.6" fill="none" stroke="#1a1a1a" stroke-width="1" stroke-linejoin="round"/>
<text font-size="5.7" text-anchor="middle" fill="#111" stroke="#111" stroke-width="0.3" transform="translate(67.9 690.2)">&lt;0.0001</text>
<polyline points="97.5,697.6 97.5,693.5 111.5,693.5 111.5,697.6" fill="none" stroke="#1a1a1a" stroke-width="1" stroke-linejoin="round"/>
<text font-size="5.7" text-anchor="middle" fill="#111" stroke="#111" stroke-width="0.3" transform="translate(104.85 690.2)">0.2511</text>
<polyline points="61.5,682.8 61.5,678.5 97.5,678.5 97.5,683.3" fill="none" stroke="#1a1a1a" stroke-width="1" stroke-linejoin="round"/>
<text font-size="5.7" text-anchor="middle" fill="#111" stroke="#111" stroke-width="0.3" transform="translate(79.45 674.5)">0.8127</text>
<polyline points="74.5,667.7 74.5,663.5 111.5,663.5 111.5,682.8" fill="none" stroke="#1a1a1a" stroke-width="1" stroke-linejoin="round"/>
<text font-size="5.7" text-anchor="middle" fill="#111" stroke="#111" stroke-width="0.3" transform="translate(93.3 659.6)">&lt;0.0001</text>
<text font-size="9.4" text-anchor="end" fill="#111" stroke="#111" transform="translate(63 781.3) rotate(-45)">Vehicle</text>
<text font-size="9.4" text-anchor="end" fill="#111" stroke="#111" transform="translate(76.8 781.3) rotate(-45)">TubA</text>
<text font-size="9.4" text-anchor="end" fill="#111" stroke="#111" transform="translate(99.9 781.3) rotate(-45)">Vehicle</text>
<text font-size="9.4" text-anchor="end" fill="#111" stroke="#111" transform="translate(113.8 781.3) rotate(-45)">TubA</text>
<text font-size="9.4" text-anchor="middle" fill="#111" stroke="#111" transform="translate(29.18 734.2) rotate(-90)">Weight change (g)</text>
<circle cx="142.3" cy="702.2" r="1.5" fill="#1c1c1c"/>
<text font-size="9.4" text-anchor="start" fill="#111" stroke="#111" transform="translate(150.8 705.54)">shScr</text>
<circle cx="142.3" cy="715.6" r="1.5" fill="#f2407f"/>
<text font-size="9.4" text-anchor="start" fill="#111" stroke="#111" transform="translate(150.8 718.94)">shFak/Pyk2</text>
<text font-size="13.5" text-anchor="start" fill="#111" stroke="#111" transform="translate(208 650)">m</text>
<line x1="252.5" y1="668.5" x2="260.5" y2="668.5" stroke="#1c1c1c" stroke-width="1"/>
<circle cx="256.5" cy="668.1" r="1.3" fill="#1c1c1c"/>
<text font-size="9.4" text-anchor="start" fill="#111" stroke="#111" transform="translate(264.9 671.44)">shScr</text>
<line x1="252.5" y1="683.5" x2="260.5" y2="683.5" stroke="#f2407f" stroke-width="1"/>
<circle cx="256.5" cy="683.8" r="1.3" fill="#f2407f"/>
<text font-size="9.4" text-anchor="start" fill="#111" stroke="#111" transform="translate(264.9 687.14)">shFak/Pyk2</text>
<line x1="257.5" y1="701.5" x2="361" y2="701.5" stroke="#8a8a8a" stroke-width="1" stroke-dasharray="2,1.5"/>
<line x1="257.5" y1="701.8" x2="257.5" y2="771.1" stroke="#1a1a1a" stroke-width="1"/>
<line x1="254.9" y1="701.5" x2="257.5" y2="701.5" stroke="#1a1a1a" stroke-width="1"/>
<text font-size="9.4" text-anchor="end" fill="#111" stroke="#111" transform="translate(253.7 705.14)">0</text>
<line x1="254.9" y1="724.5" x2="257.5" y2="724.5" stroke="#1a1a1a" stroke-width="1"/>
<text font-size="9.4" text-anchor="end" fill="#111" stroke="#111" transform="translate(253.7 728.24)">-5</text>
<line x1="254.9" y1="748.5" x2="257.5" y2="748.5" stroke="#1a1a1a" stroke-width="1"/>
<text font-size="9.4" text-anchor="end" fill="#111" stroke="#111" transform="translate(253.7 751.34)">-10</text>
<line x1="254.9" y1="771.5" x2="257.5" y2="771.5" stroke="#1a1a1a" stroke-width="1"/>
<text font-size="9.4" text-anchor="end" fill="#111" stroke="#111" transform="translate(253.7 774.44)">-15</text>
<line x1="257.5" y1="771.5" x2="361" y2="771.5" stroke="#1a1a1a" stroke-width="1"/>
<line x1="270.5" y1="771.1" x2="270.5" y2="773.7" stroke="#1a1a1a" stroke-width="1"/>
<line x1="289.5" y1="771.1" x2="289.5" y2="773.7" stroke="#1a1a1a" stroke-width="1"/>
<line x1="309.5" y1="771.1" x2="309.5" y2="773.7" stroke="#1a1a1a" stroke-width="1"/>
<line x1="328.5" y1="771.1" x2="328.5" y2="773.7" stroke="#1a1a1a" stroke-width="1"/>
<line x1="348.5" y1="771.1" x2="348.5" y2="773.7" stroke="#1a1a1a" stroke-width="1"/>
<polyline points="270.4,701.8 289.8,711.04 309.4,727.67 328.8,740.61 348.2,754.93" fill="none" stroke="#1c1c1c" stroke-width="1" stroke-linejoin="round"/>
<line x1="289.8" y1="709.65" x2="289.8" y2="712.43" stroke="#1c1c1c" stroke-width="0.6"/>
<line x1="288.2" y1="709.65" x2="291.4" y2="709.65" stroke="#1c1c1c" stroke-width="0.6"/>
<line x1="288.2" y1="712.43" x2="291.4" y2="712.43" stroke="#1c1c1c" stroke-width="0.6"/>
<line x1="309.4" y1="726.29" x2="309.4" y2="729.06" stroke="#1c1c1c" stroke-width="0.6"/>
<line x1="307.8" y1="726.29" x2="311" y2="726.29" stroke="#1c1c1c" stroke-width="0.6"/>
<line x1="307.8" y1="729.06" x2="311" y2="729.06" stroke="#1c1c1c" stroke-width="0.6"/>
<line x1="328.8" y1="738.3" x2="328.8" y2="742.92" stroke="#1c1c1c" stroke-width="0.6"/>
<line x1="327.2" y1="738.3" x2="330.4" y2="738.3" stroke="#1c1c1c" stroke-width="0.6"/>
<line x1="327.2" y1="742.92" x2="330.4" y2="742.92" stroke="#1c1c1c" stroke-width="0.6"/>
<line x1="348.2" y1="751.23" x2="348.2" y2="758.63" stroke="#1c1c1c" stroke-width="0.6"/>
<line x1="346.6" y1="751.23" x2="349.8" y2="751.23" stroke="#1c1c1c" stroke-width="0.6"/>
<line x1="346.6" y1="758.63" x2="349.8" y2="758.63" stroke="#1c1c1c" stroke-width="0.6"/>
<circle cx="270.4" cy="701.8" r="1.5" fill="#1c1c1c"/>
<circle cx="289.8" cy="711.04" r="1.5" fill="#1c1c1c"/>
<circle cx="309.4" cy="727.67" r="1.5" fill="#1c1c1c"/>
<circle cx="328.8" cy="740.61" r="1.5" fill="#1c1c1c"/>
<circle cx="348.2" cy="754.93" r="1.5" fill="#1c1c1c"/>
<polyline points="270.4,701.8 289.8,707.81 309.4,713.35 328.8,712.43 348.2,716.58" fill="none" stroke="#f2407f" stroke-width="1" stroke-linejoin="round"/>
<line x1="289.8" y1="705.96" x2="289.8" y2="709.65" stroke="#f2407f" stroke-width="0.6"/>
<line x1="288.2" y1="705.96" x2="291.4" y2="705.96" stroke="#f2407f" stroke-width="0.6"/>
<line x1="288.2" y1="709.65" x2="291.4" y2="709.65" stroke="#f2407f" stroke-width="0.6"/>
<line x1="309.4" y1="710.12" x2="309.4" y2="716.58" stroke="#f2407f" stroke-width="0.6"/>
<line x1="307.8" y1="710.12" x2="311" y2="710.12" stroke="#f2407f" stroke-width="0.6"/>
<line x1="307.8" y1="716.58" x2="311" y2="716.58" stroke="#f2407f" stroke-width="0.6"/>
<line x1="328.8" y1="709.19" x2="328.8" y2="715.66" stroke="#f2407f" stroke-width="0.6"/>
<line x1="327.2" y1="709.19" x2="330.4" y2="709.19" stroke="#f2407f" stroke-width="0.6"/>
<line x1="327.2" y1="715.66" x2="330.4" y2="715.66" stroke="#f2407f" stroke-width="0.6"/>
<line x1="348.2" y1="713.35" x2="348.2" y2="719.82" stroke="#f2407f" stroke-width="0.6"/>
<line x1="346.6" y1="713.35" x2="349.8" y2="713.35" stroke="#f2407f" stroke-width="0.6"/>
<line x1="346.6" y1="719.82" x2="349.8" y2="719.82" stroke="#f2407f" stroke-width="0.6"/>
<circle cx="270.4" cy="701.8" r="1.5" fill="#f2407f"/>
<circle cx="289.8" cy="707.81" r="1.5" fill="#f2407f"/>
<circle cx="309.4" cy="713.35" r="1.5" fill="#f2407f"/>
<circle cx="328.8" cy="712.43" r="1.5" fill="#f2407f"/>
<circle cx="348.2" cy="716.58" r="1.5" fill="#f2407f"/>
<circle cx="270.4" cy="701.8" r="1.5" fill="#f2407f"/>
<polyline points="352,717.4 354,717.4 354,755.2 352,755.2" fill="none" stroke="#1a1a1a" stroke-width="0.8" stroke-linejoin="round"/>
<text font-size="5.7" text-anchor="middle" fill="#111" stroke="#111" stroke-width="0.3" transform="translate(357.5 736.3) rotate(90)">&lt;0.0001</text>
<text font-size="9.4" text-anchor="end" fill="#111" stroke="#111" transform="translate(272.4 781.1) rotate(-45)">0</text>
<text font-size="9.4" text-anchor="end" fill="#111" stroke="#111" transform="translate(291.8 781.1) rotate(-45)">3</text>
<text font-size="9.4" text-anchor="end" fill="#111" stroke="#111" transform="translate(311.4 781.1) rotate(-45)">6</text>
<text font-size="9.4" text-anchor="end" fill="#111" stroke="#111" transform="translate(330.8 781.1) rotate(-45)">9</text>
<text font-size="9.4" text-anchor="end" fill="#111" stroke="#111" transform="translate(350.2 781.1) rotate(-45)">12</text>
<text font-size="9.4" text-anchor="middle" fill="#111" stroke="#111" transform="translate(310 800.3)">Days of TubA treatment</text>
<text font-size="9.4" text-anchor="middle" fill="#111" stroke="#111" transform="translate(224.38 733.4) rotate(-90)">Weight change</text>
<text font-size="9.4" text-anchor="middle" fill="#111" stroke="#111" transform="translate(235.08 733.4) rotate(-90)">(% of initial)</text>
<text font-size="13.5" text-anchor="start" fill="#111" stroke="#111" transform="translate(381.5 649.8)">n</text>
<circle cx="411" cy="640.3" r="1.4" fill="#1c1c1c"/>
<text font-size="9.4" text-anchor="start" fill="#111" stroke="#111" transform="translate(419.5 643.64)">shScr</text>
<circle cx="411" cy="653.4" r="1.4" fill="#f2407f"/>
<text font-size="9.4" text-anchor="start" fill="#111" stroke="#111" transform="translate(419.5 656.74)">shFak/Pyk2</text>
<line x1="427.5" y1="701" x2="427.5" y2="771.2" stroke="#1a1a1a" stroke-width="1"/>
<line x1="424.8" y1="701.5" x2="427.4" y2="701.5" stroke="#1a1a1a" stroke-width="1"/>
<text font-size="9.4" text-anchor="end" fill="#111" stroke="#111" transform="translate(423.6 704.34)">4</text>
<line x1="424.8" y1="718.5" x2="427.4" y2="718.5" stroke="#1a1a1a" stroke-width="1"/>
<text font-size="9.4" text-anchor="end" fill="#111" stroke="#111" transform="translate(423.6 721.89)">3</text>
<line x1="424.8" y1="736.5" x2="427.4" y2="736.5" stroke="#1a1a1a" stroke-width="1"/>
<text font-size="9.4" text-anchor="end" fill="#111" stroke="#111" transform="translate(423.6 739.44)">2</text>
<line x1="424.8" y1="753.5" x2="427.4" y2="753.5" stroke="#1a1a1a" stroke-width="1"/>
<text font-size="9.4" text-anchor="end" fill="#111" stroke="#111" transform="translate(423.6 756.99)">1</text>
<line x1="424.8" y1="771.5" x2="427.4" y2="771.5" stroke="#1a1a1a" stroke-width="1"/>
<text font-size="9.4" text-anchor="end" fill="#111" stroke="#111" transform="translate(423.6 774.54)">0</text>
<line x1="427.4" y1="771.5" x2="496.9" y2="771.5" stroke="#1a1a1a" stroke-width="1"/>
<line x1="436.5" y1="771.2" x2="436.5" y2="773.8" stroke="#1a1a1a" stroke-width="1"/>
<line x1="450.5" y1="771.2" x2="450.5" y2="773.8" stroke="#1a1a1a" stroke-width="1"/>
<line x1="473.5" y1="771.2" x2="473.5" y2="773.8" stroke="#1a1a1a" stroke-width="1"/>
<line x1="487.5" y1="771.2" x2="487.5" y2="773.8" stroke="#1a1a1a" stroke-width="1"/>
<line x1="432" y1="730.5" x2="441" y2="730.5" stroke="#1c1c1c" stroke-width="1"/>
<line x1="436.5" y1="729.6" x2="436.5" y2="731" stroke="#1c1c1c" stroke-width="1"/>
<line x1="433.9" y1="729.5" x2="439.1" y2="729.5" stroke="#1c1c1c" stroke-width="1"/>
<line x1="433.9" y1="731.5" x2="439.1" y2="731.5" stroke="#1c1c1c" stroke-width="1"/>
<circle cx="433.1" cy="729.6" r="1.5" fill="#1c1c1c"/>
<circle cx="433.1" cy="732.5" r="1.5" fill="#1c1c1c"/>
<circle cx="437.2" cy="730.1" r="1.5" fill="#1c1c1c"/>
<circle cx="440.3" cy="730.5" r="1.5" fill="#1c1c1c"/>
<circle cx="435" cy="731" r="1.5" fill="#1c1c1c"/>
<circle cx="438.5" cy="729.9" r="1.5" fill="#1c1c1c"/>
<line x1="446.1" y1="739.5" x2="455.1" y2="739.5" stroke="#1c1c1c" stroke-width="1"/>
<line x1="450.5" y1="737.5" x2="450.5" y2="740.5" stroke="#1c1c1c" stroke-width="1"/>
<line x1="448" y1="737.5" x2="453.2" y2="737.5" stroke="#1c1c1c" stroke-width="1"/>
<line x1="448" y1="740.5" x2="453.2" y2="740.5" stroke="#1c1c1c" stroke-width="1"/>
<circle cx="450.6" cy="734.7" r="1.5" fill="#1c1c1c"/>
<circle cx="446.6" cy="738.8" r="1.5" fill="#1c1c1c"/>
<circle cx="454.6" cy="738.8" r="1.5" fill="#1c1c1c"/>
<circle cx="450.6" cy="741.9" r="1.5" fill="#1c1c1c"/>
<circle cx="448.6" cy="738.5" r="1.5" fill="#1c1c1c"/>
<circle cx="452.6" cy="739.2" r="1.5" fill="#1c1c1c"/>
<circle cx="450.6" cy="744.3" r="1.5" fill="#1c1c1c"/>
<line x1="467.9" y1="725.5" x2="478.9" y2="725.5" stroke="#f2407f" stroke-width="1"/>
<line x1="473.5" y1="722.3" x2="473.5" y2="727.7" stroke="#f2407f" stroke-width="1"/>
<line x1="470.8" y1="722.5" x2="476" y2="722.5" stroke="#f2407f" stroke-width="1"/>
<line x1="470.8" y1="727.5" x2="476" y2="727.5" stroke="#f2407f" stroke-width="1"/>
<circle cx="473.7" cy="716.1" r="1.5" fill="#f2407f"/>
<circle cx="470.4" cy="726.4" r="1.5" fill="#f2407f"/>
<circle cx="477" cy="728.1" r="1.5" fill="#f2407f"/>
<circle cx="470.4" cy="730.7" r="1.5" fill="#f2407f"/>
<circle cx="473.7" cy="726.4" r="1.5" fill="#f2407f"/>
<line x1="481.8" y1="727.5" x2="492.8" y2="727.5" stroke="#f2407f" stroke-width="1"/>
<line x1="487.5" y1="725.3" x2="487.5" y2="729.9" stroke="#f2407f" stroke-width="1"/>
<line x1="484.7" y1="725.5" x2="489.9" y2="725.5" stroke="#f2407f" stroke-width="1"/>
<line x1="484.7" y1="729.5" x2="489.9" y2="729.5" stroke="#f2407f" stroke-width="1"/>
<circle cx="487.6" cy="721" r="1.5" fill="#f2407f"/>
<circle cx="484.2" cy="728.1" r="1.5" fill="#f2407f"/>
<circle cx="491.4" cy="727.4" r="1.5" fill="#f2407f"/>
<circle cx="487.6" cy="731.2" r="1.5" fill="#f2407f"/>
<circle cx="487.6" cy="734.2" r="1.5" fill="#f2407f"/>
<polyline points="436.5,724.5 436.5,708.5 450.5,708.5 450.5,730.7" fill="none" stroke="#1a1a1a" stroke-width="1" stroke-linejoin="round"/>
<text font-size="5.7" text-anchor="middle" fill="#111" stroke="#111" stroke-width="0.3" transform="translate(443.55 704.6)">0.0003</text>
<polyline points="473.5,712.8 473.5,708.5 487.5,708.5 487.5,716.9" fill="none" stroke="#1a1a1a" stroke-width="1" stroke-linejoin="round"/>
<text font-size="5.7" text-anchor="middle" fill="#111" stroke="#111" stroke-width="0.3" transform="translate(480.35 704.6)">0.0554</text>
<polyline points="436.5,697.8 436.5,693.5 473.5,693.5 473.5,697.8" fill="none" stroke="#1a1a1a" stroke-width="1" stroke-linejoin="round"/>
<text font-size="5.7" text-anchor="middle" fill="#111" stroke="#111" stroke-width="0.3" transform="translate(454.95 689.8)">0.0450</text>
<polyline points="450.5,682.4 450.5,678.5 487.5,678.5 487.5,697.8" fill="none" stroke="#1a1a1a" stroke-width="1" stroke-linejoin="round"/>
<text font-size="5.7" text-anchor="middle" fill="#111" stroke="#111" stroke-width="0.3" transform="translate(468.95 674.9)">0.0004</text>
<text font-size="9.4" text-anchor="end" fill="#111" stroke="#111" transform="translate(438.5 781.2) rotate(-45)">Veh</text>
<text font-size="9.4" text-anchor="end" fill="#111" stroke="#111" transform="translate(452.6 781.2) rotate(-45)">TubA</text>
<text font-size="9.4" text-anchor="end" fill="#111" stroke="#111" transform="translate(475.4 781.2) rotate(-45)">Veh</text>
<text font-size="9.4" text-anchor="end" fill="#111" stroke="#111" transform="translate(489.3 781.2) rotate(-45)">TubA</text>
<text font-size="9.4" text-anchor="middle" fill="#111" stroke="#111" transform="translate(413.88 733.9) rotate(-90)">Food intake (g)</text>
<text font-size="13.5" text-anchor="start" fill="#111" stroke="#111" transform="translate(519.5 650)">o</text>
<text font-size="10.3" text-anchor="middle" fill="#111" stroke="#111" transform="translate(608 650)">weight-matched cohorts</text>
<line x1="568.6" y1="675.5" x2="576.6" y2="675.5" stroke="#1c1c1c" stroke-width="1"/>
<circle cx="572.6" cy="675.7" r="1.3" fill="#1c1c1c"/>
<text font-size="9.4" text-anchor="start" fill="#111" stroke="#111" transform="translate(579 679.04)">shScr</text>
<line x1="568.6" y1="689.5" x2="576.6" y2="689.5" stroke="#f2407f" stroke-width="1"/>
<circle cx="572.6" cy="689.5" r="1.3" fill="#f2407f"/>
<text font-size="9.4" text-anchor="start" fill="#111" stroke="#111" transform="translate(579 692.84)">shFak/Pyk2</text>
<line x1="558.5" y1="701.81" x2="558.5" y2="770.7" stroke="#1a1a1a" stroke-width="1"/>
<line x1="555.4" y1="701.5" x2="558" y2="701.5" stroke="#1a1a1a" stroke-width="1"/>
<text font-size="9.4" text-anchor="end" fill="#111" stroke="#111" transform="translate(554.2 705.14)">55</text>
<line x1="555.4" y1="724.5" x2="558" y2="724.5" stroke="#1a1a1a" stroke-width="1"/>
<text font-size="9.4" text-anchor="end" fill="#111" stroke="#111" transform="translate(554.2 728.11)">50</text>
<line x1="555.4" y1="747.5" x2="558" y2="747.5" stroke="#1a1a1a" stroke-width="1"/>
<text font-size="9.4" text-anchor="end" fill="#111" stroke="#111" transform="translate(554.2 751.07)">45</text>
<line x1="555.4" y1="770.5" x2="558" y2="770.5" stroke="#1a1a1a" stroke-width="1"/>
<text font-size="9.4" text-anchor="end" fill="#111" stroke="#111" transform="translate(554.2 774.04)">40</text>
<line x1="558" y1="770.5" x2="662.8" y2="770.5" stroke="#1a1a1a" stroke-width="1"/>
<line x1="571.5" y1="770.7" x2="571.5" y2="773.3" stroke="#1a1a1a" stroke-width="1"/>
<line x1="591.5" y1="770.7" x2="591.5" y2="773.3" stroke="#1a1a1a" stroke-width="1"/>
<line x1="610.5" y1="770.7" x2="610.5" y2="773.3" stroke="#1a1a1a" stroke-width="1"/>
<line x1="629.5" y1="770.7" x2="629.5" y2="773.3" stroke="#1a1a1a" stroke-width="1"/>
<line x1="649.5" y1="770.7" x2="649.5" y2="773.3" stroke="#1a1a1a" stroke-width="1"/>
<polyline points="571.3,722.01 591.2,726.61 610.4,734.42 629.6,740.39 649.2,747.28" fill="none" stroke="#222" stroke-width="1" stroke-linejoin="round"/>
<line x1="571.3" y1="717.42" x2="571.3" y2="726.61" stroke="#222" stroke-width="0.6"/>
<line x1="569.7" y1="717.42" x2="572.9" y2="717.42" stroke="#222" stroke-width="0.6"/>
<line x1="569.7" y1="726.61" x2="572.9" y2="726.61" stroke="#222" stroke-width="0.6"/>
<line x1="591.2" y1="722.01" x2="591.2" y2="731.2" stroke="#222" stroke-width="0.6"/>
<line x1="589.6" y1="722.01" x2="592.8" y2="722.01" stroke="#222" stroke-width="0.6"/>
<line x1="589.6" y1="731.2" x2="592.8" y2="731.2" stroke="#222" stroke-width="0.6"/>
<line x1="610.4" y1="729.82" x2="610.4" y2="739.01" stroke="#222" stroke-width="0.6"/>
<line x1="608.8" y1="729.82" x2="612" y2="729.82" stroke="#222" stroke-width="0.6"/>
<line x1="608.8" y1="739.01" x2="612" y2="739.01" stroke="#222" stroke-width="0.6"/>
<line x1="629.6" y1="736.25" x2="629.6" y2="744.52" stroke="#222" stroke-width="0.6"/>
<line x1="628" y1="736.25" x2="631.2" y2="736.25" stroke="#222" stroke-width="0.6"/>
<line x1="628" y1="744.52" x2="631.2" y2="744.52" stroke="#222" stroke-width="0.6"/>
<line x1="649.2" y1="742.22" x2="649.2" y2="752.33" stroke="#222" stroke-width="0.6"/>
<line x1="647.6" y1="742.22" x2="650.8" y2="742.22" stroke="#222" stroke-width="0.6"/>
<line x1="647.6" y1="752.33" x2="650.8" y2="752.33" stroke="#222" stroke-width="0.6"/>
<circle cx="571.3" cy="722.01" r="1.5" fill="#222"/>
<circle cx="591.2" cy="726.61" r="1.5" fill="#222"/>
<circle cx="610.4" cy="734.42" r="1.5" fill="#222"/>
<circle cx="629.6" cy="740.39" r="1.5" fill="#222"/>
<circle cx="649.2" cy="747.28" r="1.5" fill="#222"/>
<polyline points="571.3,722.01 591.2,725.69 610.4,728.44 629.6,728.44 649.2,730.28" fill="none" stroke="#f2407f" stroke-width="1" stroke-linejoin="round"/>
<line x1="571.3" y1="717.42" x2="571.3" y2="726.61" stroke="#f2407f" stroke-width="0.6"/>
<line x1="569.7" y1="717.42" x2="572.9" y2="717.42" stroke="#f2407f" stroke-width="0.6"/>
<line x1="569.7" y1="726.61" x2="572.9" y2="726.61" stroke="#f2407f" stroke-width="0.6"/>
<line x1="591.2" y1="721.55" x2="591.2" y2="729.82" stroke="#f2407f" stroke-width="0.6"/>
<line x1="589.6" y1="721.55" x2="592.8" y2="721.55" stroke="#f2407f" stroke-width="0.6"/>
<line x1="589.6" y1="729.82" x2="592.8" y2="729.82" stroke="#f2407f" stroke-width="0.6"/>
<line x1="610.4" y1="724.31" x2="610.4" y2="732.58" stroke="#f2407f" stroke-width="0.6"/>
<line x1="608.8" y1="724.31" x2="612" y2="724.31" stroke="#f2407f" stroke-width="0.6"/>
<line x1="608.8" y1="732.58" x2="612" y2="732.58" stroke="#f2407f" stroke-width="0.6"/>
<line x1="629.6" y1="724.31" x2="629.6" y2="732.58" stroke="#f2407f" stroke-width="0.6"/>
<line x1="628" y1="724.31" x2="631.2" y2="724.31" stroke="#f2407f" stroke-width="0.6"/>
<line x1="628" y1="732.58" x2="631.2" y2="732.58" stroke="#f2407f" stroke-width="0.6"/>
<line x1="649.2" y1="726.15" x2="649.2" y2="734.42" stroke="#f2407f" stroke-width="0.6"/>
<line x1="647.6" y1="726.15" x2="650.8" y2="726.15" stroke="#f2407f" stroke-width="0.6"/>
<line x1="647.6" y1="734.42" x2="650.8" y2="734.42" stroke="#f2407f" stroke-width="0.6"/>
<rect x="569.8" y="720.51" width="3" height="3" fill="#f2407f"/>
<rect x="589.7" y="724.19" width="3" height="3" fill="#f2407f"/>
<rect x="608.9" y="726.94" width="3" height="3" fill="#f2407f"/>
<rect x="628.1" y="726.94" width="3" height="3" fill="#f2407f"/>
<rect x="647.7" y="728.78" width="3" height="3" fill="#f2407f"/>
<polyline points="655.5,729.4 657.7,729.4 657.7,748.3 655.5,748.3" fill="none" stroke="#1a1a1a" stroke-width="0.8" stroke-linejoin="round"/>
<text font-size="5.7" text-anchor="middle" fill="#111" stroke="#111" stroke-width="0.3" transform="translate(661.2 738.8) rotate(90)">0.033</text>
<text font-size="9.4" text-anchor="end" fill="#111" stroke="#111" transform="translate(573.3 780.7) rotate(-45)">0</text>
<text font-size="9.4" text-anchor="end" fill="#111" stroke="#111" transform="translate(593.2 780.7) rotate(-45)">3</text>
<text font-size="9.4" text-anchor="end" fill="#111" stroke="#111" transform="translate(612.4 780.7) rotate(-45)">6</text>
<text font-size="9.4" text-anchor="end" fill="#111" stroke="#111" transform="translate(631.6 780.7) rotate(-45)">9</text>
<text font-size="9.4" text-anchor="end" fill="#111" stroke="#111" transform="translate(651.2 780.7) rotate(-45)">12</text>
<text font-size="9.4" text-anchor="middle" fill="#111" stroke="#111" transform="translate(611 800.2)">Day of TubA treatment</text>
<text font-size="9.4" text-anchor="middle" fill="#111" stroke="#111" transform="translate(539.28 734.3) rotate(-90)">Body weight (g)</text>
</svg>
</body></html>
